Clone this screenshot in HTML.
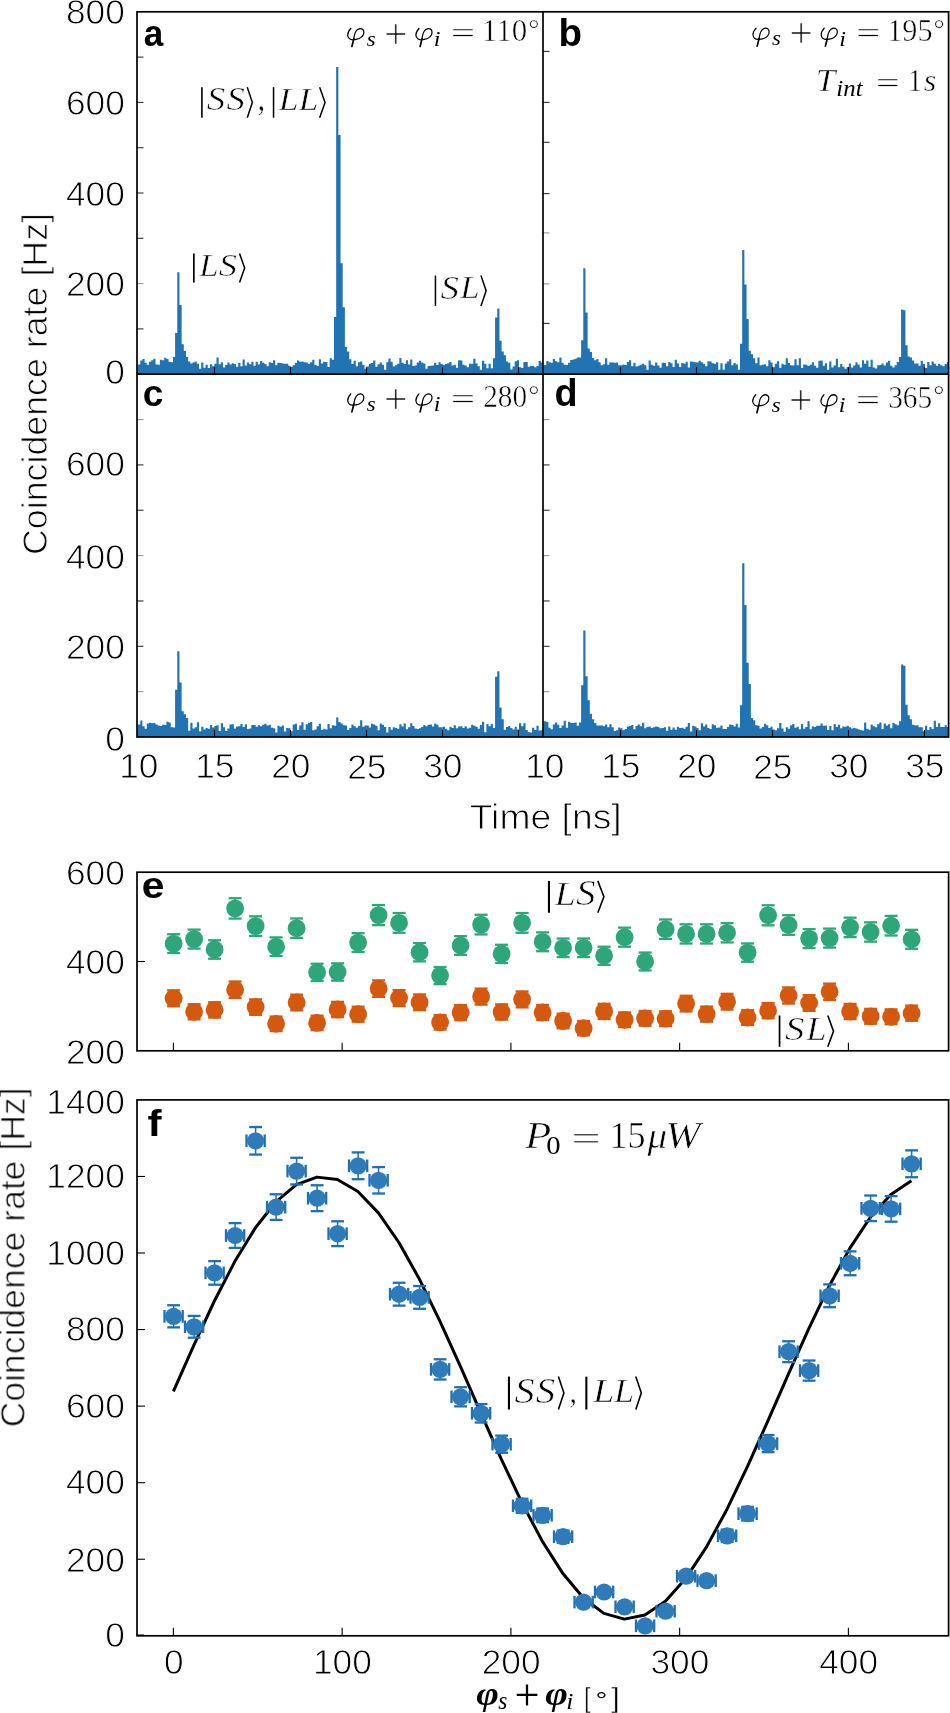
<!DOCTYPE html>
<html><head><meta charset="utf-8"><style>
html,body{margin:0;padding:0;background:#fff;}
svg{display:block;}
.gs{filter:grayscale(1);}
text{fill:#000;}
.thin{stroke:#fff;stroke-width:0.9px;}
.m text.e{stroke:#fff;stroke-width:0.5px;}
</style></head><body>
<svg width="950" height="1713" viewBox="0 0 950 1713">
<rect width="950" height="1713" fill="#fff"/>
<path d="M137.00,374.20 L137.80,364.57 L140.28,364.57 L140.28,360.58 L142.45,360.58 L142.45,359.04 L144.63,359.04 L144.63,362.79 L146.81,362.79 L146.81,364.83 L148.98,364.83 L148.98,361.68 L151.16,361.68 L151.16,360.33 L153.34,360.33 L153.34,358.78 L155.51,358.78 L155.51,364.55 L157.69,364.55 L157.69,364.74 L159.87,364.74 L159.87,359.76 L162.04,359.76 L162.04,360.33 L164.22,360.33 L164.22,357.69 L166.40,357.69 L166.40,359.07 L168.57,359.07 L168.57,361.77 L170.75,361.77 L170.75,362.20 L172.93,362.20 L172.93,356.99 L175.10,356.99 L175.10,332.98 L177.28,332.98 L177.28,272.27 L179.46,272.27 L179.46,304.89 L181.63,304.89 L181.63,344.30 L183.81,344.30 L183.81,351.10 L185.99,351.10 L185.99,356.99 L188.16,356.99 L188.16,361.52 L190.34,361.52 L190.34,363.55 L192.52,363.55 L192.52,362.51 L194.69,362.51 L194.69,361.50 L196.87,361.50 L196.87,363.71 L199.05,363.71 L199.05,368.69 L201.22,368.69 L201.22,362.49 L203.40,362.49 L203.40,367.77 L205.58,367.77 L205.58,364.66 L207.75,364.66 L207.75,367.91 L209.93,367.91 L209.93,364.23 L212.11,364.23 L212.11,366.17 L214.28,366.17 L214.28,363.70 L216.46,363.70 L216.46,357.44 L218.64,357.44 L218.64,364.36 L220.81,364.36 L220.81,362.14 L222.99,362.14 L222.99,367.53 L225.17,367.53 L225.17,364.95 L227.34,364.95 L227.34,362.58 L229.52,362.58 L229.52,364.46 L231.70,364.46 L231.70,363.31 L233.87,363.31 L233.87,363.98 L236.05,363.98 L236.05,366.74 L238.23,366.74 L238.23,362.83 L240.40,362.83 L240.40,366.26 L242.58,366.26 L242.58,359.57 L244.76,359.57 L244.76,365.49 L246.94,365.49 L246.94,362.52 L249.11,362.52 L249.11,364.23 L251.29,364.23 L251.29,361.86 L253.47,361.86 L253.47,365.73 L255.64,365.73 L255.64,361.75 L257.82,361.75 L257.82,364.54 L260.00,364.54 L260.00,361.09 L262.17,361.09 L262.17,362.68 L264.35,362.68 L264.35,363.88 L266.53,363.88 L266.53,366.18 L268.70,366.18 L268.70,362.32 L270.88,362.32 L270.88,363.07 L273.06,363.07 L273.06,360.14 L275.23,360.14 L275.23,365.17 L277.41,365.17 L277.41,362.85 L279.59,362.85 L279.59,362.97 L281.76,362.97 L281.76,363.53 L283.94,363.53 L283.94,363.71 L286.12,363.71 L286.12,363.78 L288.29,363.78 L288.29,365.72 L290.47,365.72 L290.47,366.76 L292.65,366.76 L292.65,365.22 L294.82,365.22 L294.82,362.76 L297.00,362.76 L297.00,360.47 L299.18,360.47 L299.18,361.80 L301.35,361.80 L301.35,361.61 L303.53,361.61 L303.53,362.30 L305.71,362.30 L305.71,362.49 L307.88,362.49 L307.88,363.78 L310.06,363.78 L310.06,362.31 L312.24,362.31 L312.24,359.81 L314.41,359.81 L314.41,365.05 L316.59,365.05 L316.59,365.96 L318.77,365.96 L318.77,359.35 L320.94,359.35 L320.94,363.62 L323.12,363.62 L323.12,361.81 L325.30,361.81 L325.30,362.06 L327.47,362.06 L327.47,367.06 L329.65,367.06 L329.65,358.17 L331.83,358.17 L331.83,359.81 L334.00,359.81 L334.00,317.12 L336.18,317.12 L336.18,67.07 L338.36,67.07 L338.36,135.02 L340.53,135.02 L340.53,263.22 L342.71,263.22 L342.71,307.16 L344.89,307.16 L344.89,347.02 L347.06,347.02 L347.06,351.55 L349.24,351.55 L349.24,359.25 L351.42,359.25 L351.42,364.09 L353.59,364.09 L353.59,360.86 L355.77,360.86 L355.77,366.13 L357.95,366.13 L357.95,362.26 L360.12,362.26 L360.12,361.46 L362.30,361.46 L362.30,364.96 L364.48,364.96 L364.48,368.70 L366.65,368.70 L366.65,366.49 L368.83,366.49 L368.83,363.64 L371.01,363.64 L371.01,362.92 L373.18,362.92 L373.18,360.38 L375.36,360.38 L375.36,366.74 L377.54,366.74 L377.54,364.23 L379.71,364.23 L379.71,362.62 L381.89,362.62 L381.89,364.63 L384.07,364.63 L384.07,369.67 L386.24,369.67 L386.24,362.22 L388.42,362.22 L388.42,358.47 L390.60,358.47 L390.60,361.73 L392.77,361.73 L392.77,366.52 L394.95,366.52 L394.95,365.26 L397.13,365.26 L397.13,363.68 L399.30,363.68 L399.30,358.03 L401.48,358.03 L401.48,362.70 L403.66,362.70 L403.66,363.95 L405.83,363.95 L405.83,360.35 L408.01,360.35 L408.01,364.44 L410.19,364.44 L410.19,359.60 L412.36,359.60 L412.36,365.94 L414.54,365.94 L414.54,365.42 L416.72,365.42 L416.72,362.44 L418.89,362.44 L418.89,360.69 L421.07,360.69 L421.07,362.60 L423.25,362.60 L423.25,363.48 L425.42,363.48 L425.42,368.77 L427.60,368.77 L427.60,366.01 L429.78,366.01 L429.78,365.76 L431.95,365.76 L431.95,365.56 L434.13,365.56 L434.13,362.77 L436.31,362.77 L436.31,365.07 L438.48,365.07 L438.48,362.27 L440.66,362.27 L440.66,364.03 L442.84,364.03 L442.84,365.06 L445.01,365.06 L445.01,363.94 L447.19,363.94 L447.19,363.17 L449.37,363.17 L449.37,362.10 L451.54,362.10 L451.54,365.42 L453.72,365.42 L453.72,364.81 L455.90,364.81 L455.90,367.63 L458.07,367.63 L458.07,360.24 L460.25,360.24 L460.25,360.62 L462.43,360.62 L462.43,364.68 L464.60,364.68 L464.61,365.43 L466.78,365.43 L466.78,367.31 L468.96,367.31 L468.96,363.81 L471.14,363.81 L471.14,363.72 L473.31,363.72 L473.31,358.80 L475.49,358.80 L475.49,363.62 L477.67,363.62 L477.67,366.17 L479.84,366.17 L479.84,369.67 L482.02,369.67 L482.02,360.72 L484.20,360.72 L484.20,363.76 L486.37,363.76 L486.37,368.24 L488.55,368.24 L488.55,363.78 L490.73,363.78 L490.73,368.24 L492.90,368.24 L492.90,358.34 L495.08,358.34 L495.08,317.57 L497.26,317.57 L497.26,308.51 L499.43,308.51 L499.43,340.68 L501.61,340.68 L501.61,351.55 L503.79,351.55 L503.79,355.17 L505.96,355.17 L505.96,361.52 L508.14,361.52 L508.14,362.75 L510.32,362.75 L510.32,369.56 L512.49,369.56 L512.49,366.50 L514.67,366.50 L514.67,361.20 L516.85,361.20 L516.85,360.14 L519.02,360.14 L519.02,367.18 L521.20,367.18 L521.20,368.06 L523.38,368.06 L523.38,362.04 L525.55,362.04 L525.55,362.11 L527.73,362.11 L527.73,366.69 L529.91,366.69 L529.91,365.96 L532.08,365.96 L532.08,365.96 L534.26,365.96 L534.26,367.20 L536.44,367.20 L536.44,365.93 L538.61,365.93 L538.61,361.12 L540.79,361.12 L540.79,362.52 L542.60,362.52 L542.60,374.20 Z" fill="#2173b2"/>
<path d="M543.00,374.20 L543.80,365.12 L546.28,365.12 L546.28,360.94 L548.45,360.94 L548.45,362.21 L550.63,362.21 L550.63,362.71 L552.81,362.71 L552.81,359.11 L554.98,359.11 L554.98,361.35 L557.16,361.35 L557.16,362.20 L559.34,362.20 L559.34,357.44 L561.51,357.44 L561.51,362.75 L563.69,362.75 L563.69,364.66 L565.87,364.66 L565.87,364.94 L568.04,364.94 L568.04,362.83 L570.22,362.83 L570.22,359.88 L572.40,359.88 L572.40,359.39 L574.57,359.39 L574.57,358.68 L576.75,358.68 L576.75,357.44 L578.93,357.44 L578.93,357.44 L581.10,357.44 L581.10,340.23 L583.28,340.23 L583.28,268.20 L585.46,268.20 L585.46,312.59 L587.63,312.59 L587.63,348.38 L589.81,348.38 L589.81,352.00 L591.99,352.00 L591.99,357.89 L594.16,357.89 L594.16,360.16 L596.34,360.16 L596.34,359.10 L598.52,359.10 L598.52,362.17 L600.69,362.17 L600.69,365.32 L602.87,365.32 L602.87,364.29 L605.05,364.29 L605.05,358.22 L607.22,358.22 L607.22,364.72 L609.40,364.72 L609.40,362.25 L611.58,362.25 L611.58,362.54 L613.75,362.54 L613.75,362.81 L615.93,362.81 L615.93,362.62 L618.11,362.62 L618.11,365.31 L620.28,365.31 L620.28,365.26 L622.46,365.26 L622.46,364.50 L624.64,364.50 L624.64,365.00 L626.81,365.00 L626.81,362.06 L628.99,362.06 L628.99,360.20 L631.17,360.20 L631.17,366.34 L633.34,366.34 L633.34,362.72 L635.52,362.72 L635.52,366.57 L637.70,366.57 L637.70,365.84 L639.87,365.84 L639.87,364.70 L642.05,364.70 L642.05,363.82 L644.23,363.82 L644.23,365.20 L646.40,365.20 L646.40,369.67 L648.58,369.67 L648.58,360.60 L650.76,360.60 L650.76,364.78 L652.93,364.78 L652.94,365.70 L655.11,365.70 L655.11,362.38 L657.29,362.38 L657.29,365.60 L659.47,365.60 L659.47,367.70 L661.64,367.70 L661.64,362.86 L663.82,362.86 L663.82,363.04 L666.00,363.04 L666.00,366.18 L668.17,366.18 L668.17,361.98 L670.35,361.98 L670.35,363.15 L672.53,363.15 L672.53,366.96 L674.70,366.96 L674.70,359.67 L676.88,359.67 L676.88,363.42 L679.06,363.42 L679.06,366.96 L681.23,366.96 L681.23,362.95 L683.41,362.95 L683.41,363.78 L685.59,363.78 L685.59,361.64 L687.76,361.64 L687.76,367.50 L689.94,367.50 L689.94,361.47 L692.12,361.47 L692.12,361.72 L694.29,361.72 L694.29,362.34 L696.47,362.34 L696.47,362.55 L698.65,362.55 L698.65,360.78 L700.82,360.78 L700.82,362.28 L703.00,362.28 L703.00,363.77 L705.18,363.77 L705.18,366.21 L707.35,366.21 L707.35,361.29 L709.53,361.29 L709.53,361.62 L711.71,361.62 L711.71,363.35 L713.88,363.35 L713.88,363.71 L716.06,363.71 L716.06,362.27 L718.24,362.27 L718.24,369.67 L720.41,369.67 L720.41,363.30 L722.59,363.30 L722.59,369.67 L724.77,369.67 L724.77,363.49 L726.94,363.49 L726.94,361.43 L729.12,361.43 L729.12,359.32 L731.30,359.32 L731.30,365.30 L733.47,365.30 L733.47,363.02 L735.65,363.02 L735.65,364.28 L737.83,364.28 L737.83,369.67 L740.00,369.67 L740.00,343.85 L742.18,343.85 L742.18,250.08 L744.36,250.08 L744.36,284.51 L746.53,284.51 L746.53,318.93 L748.71,318.93 L748.71,350.64 L750.89,350.64 L750.89,354.27 L753.06,354.27 L753.06,358.34 L755.24,358.34 L755.24,363.37 L757.42,363.37 L757.42,357.44 L759.59,357.44 L759.59,365.15 L761.77,365.15 L761.77,364.78 L763.95,364.78 L763.95,364.25 L766.12,364.25 L766.12,366.16 L768.30,366.16 L768.30,360.30 L770.48,360.30 L770.48,362.48 L772.65,362.48 L772.65,367.33 L774.83,367.33 L774.83,363.84 L777.01,363.84 L777.01,361.21 L779.18,361.21 L779.18,367.70 L781.36,367.70 L781.36,363.74 L783.54,363.74 L783.54,364.71 L785.71,364.71 L785.71,358.22 L787.89,358.22 L787.89,363.07 L790.07,363.07 L790.07,365.15 L792.24,365.15 L792.24,365.53 L794.42,365.53 L794.42,359.34 L796.60,359.34 L796.60,365.29 L798.77,365.29 L798.77,358.35 L800.95,358.35 L800.95,368.06 L803.13,368.06 L803.13,364.60 L805.30,364.60 L805.30,364.72 L807.48,364.72 L807.48,365.89 L809.66,365.89 L809.66,364.65 L811.83,364.65 L811.83,362.37 L814.01,362.37 L814.01,365.79 L816.19,365.79 L816.19,367.74 L818.36,367.74 L818.36,360.72 L820.54,360.72 L820.54,360.41 L822.72,360.41 L822.72,365.86 L824.89,365.86 L824.89,363.35 L827.07,363.35 L827.07,369.67 L829.25,369.67 L829.25,361.49 L831.42,361.49 L831.42,367.48 L833.60,367.48 L833.60,365.52 L835.78,365.52 L835.78,358.65 L837.95,358.65 L837.95,367.31 L840.13,367.31 L840.13,364.06 L842.31,364.06 L842.31,366.82 L844.48,366.82 L844.48,368.79 L846.66,368.79 L846.66,367.06 L848.84,367.06 L848.84,363.43 L851.01,363.43 L851.01,367.42 L853.19,367.42 L853.19,365.61 L855.37,365.61 L855.37,362.28 L857.54,362.28 L857.54,364.52 L859.72,364.52 L859.72,367.43 L861.90,367.43 L861.90,360.34 L864.07,360.34 L864.07,363.81 L866.25,363.81 L866.25,360.57 L868.43,360.57 L868.43,366.77 L870.61,366.77 L870.61,359.86 L872.78,359.86 L872.78,367.52 L874.96,367.52 L874.96,368.52 L877.14,368.52 L877.14,365.19 L879.31,365.19 L879.31,365.06 L881.49,365.06 L881.49,363.46 L883.67,363.46 L883.67,365.54 L885.84,365.54 L885.84,362.52 L888.02,362.52 L888.02,360.75 L890.20,360.75 L890.20,365.77 L892.37,365.77 L892.37,367.59 L894.55,367.59 L894.55,365.13 L896.73,365.13 L896.73,362.05 L898.90,362.05 L898.90,356.99 L901.08,356.99 L901.08,309.42 L903.26,309.42 L903.26,310.33 L905.43,310.33 L905.43,345.21 L907.61,345.21 L907.61,356.53 L909.79,356.53 L909.79,357.44 L911.96,357.44 L911.96,360.61 L914.14,360.61 L914.14,363.55 L916.32,363.55 L916.32,363.39 L918.49,363.39 L918.49,365.70 L920.67,365.70 L920.67,360.68 L922.85,360.68 L922.85,364.01 L925.02,364.01 L925.02,367.88 L927.20,367.88 L927.20,362.05 L929.38,362.05 L929.38,365.18 L931.55,365.18 L931.55,361.40 L933.73,361.40 L933.73,363.70 L935.91,363.70 L935.91,365.70 L938.08,365.70 L938.08,363.69 L940.26,363.69 L940.26,365.36 L942.44,365.36 L942.44,366.21 L944.61,366.21 L944.61,364.07 L946.79,364.07 L946.79,362.02 L948.60,362.02 L948.60,374.20 Z" fill="#2173b2"/>
<path d="M137.00,737.00 L137.80,724.52 L140.28,724.52 L140.28,720.52 L142.45,720.52 L142.45,726.25 L144.63,726.25 L144.63,728.74 L146.81,728.74 L146.81,723.59 L148.98,723.59 L148.98,722.64 L151.16,722.64 L151.16,723.23 L153.34,723.23 L153.34,722.88 L155.51,722.88 L155.51,724.43 L157.69,724.43 L157.69,725.61 L159.87,725.61 L159.87,726.00 L162.04,726.00 L162.04,724.64 L164.22,724.64 L164.22,725.04 L166.40,725.04 L166.40,721.75 L168.57,721.75 L168.57,722.51 L170.75,722.51 L170.75,727.21 L172.93,727.21 L172.93,727.48 L175.10,727.48 L175.10,689.84 L177.28,689.84 L177.28,651.29 L179.46,651.29 L179.46,682.58 L181.63,682.58 L181.63,711.15 L183.81,711.15 L183.81,714.33 L185.99,714.33 L185.99,717.95 L188.16,717.95 L188.16,730.68 L190.34,730.68 L190.34,722.81 L192.52,722.81 L192.52,728.41 L194.69,728.41 L194.69,727.23 L196.87,727.23 L196.87,722.17 L199.05,722.17 L199.05,731.19 L201.22,731.19 L201.22,726.68 L203.40,726.68 L203.40,729.45 L205.58,729.45 L205.58,728.06 L207.75,728.06 L207.75,728.76 L209.93,728.76 L209.93,725.03 L212.11,725.03 L212.11,727.51 L214.28,727.51 L214.28,725.88 L216.46,725.88 L216.46,725.13 L218.64,725.13 L218.64,731.07 L220.81,731.07 L220.81,723.22 L222.99,723.22 L222.99,727.37 L225.17,727.37 L225.17,730.93 L227.34,730.93 L227.34,728.41 L229.52,728.41 L229.52,724.54 L231.70,724.54 L231.70,724.21 L233.87,724.21 L233.87,728.48 L236.05,728.48 L236.05,726.48 L238.23,726.48 L238.23,726.13 L240.40,726.13 L240.40,724.12 L242.58,724.12 L242.58,727.08 L244.76,727.08 L244.76,724.26 L246.94,724.26 L246.94,729.00 L249.11,729.00 L249.11,728.56 L251.29,728.56 L251.29,725.05 L253.47,725.05 L253.47,724.90 L255.64,724.90 L255.64,726.86 L257.82,726.86 L257.82,725.20 L260.00,725.20 L260.00,726.21 L262.17,726.21 L262.17,724.78 L264.35,724.78 L264.35,723.78 L266.53,723.78 L266.53,725.41 L268.70,725.41 L268.70,724.65 L270.88,724.65 L270.88,727.73 L273.06,727.73 L273.06,728.15 L275.23,728.15 L275.23,732.47 L277.41,732.47 L277.41,725.69 L279.59,725.69 L279.59,726.65 L281.76,726.65 L281.76,725.38 L283.94,725.38 L283.94,731.49 L286.12,731.49 L286.12,727.97 L288.29,727.97 L288.29,728.15 L290.47,728.15 L290.47,731.32 L292.65,731.32 L292.65,724.43 L294.82,724.43 L294.82,723.63 L297.00,723.63 L297.00,729.97 L299.18,729.97 L299.18,725.60 L301.35,725.60 L301.35,722.34 L303.53,722.34 L303.53,729.82 L305.71,729.82 L305.71,724.22 L307.88,724.22 L307.88,722.69 L310.06,722.69 L310.06,721.98 L312.24,721.98 L312.24,730.20 L314.41,730.20 L314.41,729.44 L316.59,729.44 L316.59,726.20 L318.77,726.20 L318.77,723.67 L320.94,723.67 L320.94,729.94 L323.12,729.94 L323.12,728.65 L325.30,728.65 L325.30,729.57 L327.47,729.57 L327.47,723.91 L329.65,723.91 L329.65,728.16 L331.83,728.16 L331.83,725.27 L334.00,725.27 L334.00,725.66 L336.18,725.66 L336.18,717.50 L338.36,717.50 L338.36,722.03 L340.53,722.03 L340.53,723.39 L342.71,723.39 L342.71,725.21 L344.89,725.21 L344.89,725.52 L347.06,725.52 L347.06,729.95 L349.24,729.95 L349.24,728.10 L351.42,728.10 L351.42,724.42 L353.59,724.42 L353.59,726.37 L355.77,726.37 L355.77,727.63 L357.95,727.63 L357.95,726.11 L360.12,726.11 L360.12,720.22 L362.30,720.22 L362.30,726.86 L364.48,726.86 L364.48,725.50 L366.65,725.50 L366.65,725.56 L368.83,725.56 L368.83,727.42 L371.01,727.42 L371.01,723.68 L373.18,723.68 L373.18,724.54 L375.36,724.54 L375.36,725.71 L377.54,725.71 L377.54,730.19 L379.71,730.19 L379.71,723.51 L381.89,723.51 L381.89,724.77 L384.07,724.77 L384.07,726.94 L386.24,726.94 L386.24,732.47 L388.42,732.47 L388.42,726.88 L390.60,726.88 L390.60,729.84 L392.77,729.84 L392.77,727.32 L394.95,727.32 L394.95,728.04 L397.13,728.04 L397.13,728.85 L399.30,728.85 L399.30,724.14 L401.48,724.14 L401.48,726.44 L403.66,726.44 L403.66,723.57 L405.83,723.57 L405.83,729.20 L408.01,729.20 L408.01,727.22 L410.19,727.22 L410.19,723.24 L412.36,723.24 L412.36,725.90 L414.54,725.90 L414.54,728.59 L416.72,728.59 L416.72,729.01 L418.89,729.01 L418.89,728.25 L421.07,728.25 L421.07,726.95 L423.25,726.95 L423.25,724.97 L425.42,724.97 L425.42,726.36 L427.60,726.36 L427.60,724.80 L429.78,724.80 L429.78,724.58 L431.95,724.58 L431.95,726.43 L434.13,726.43 L434.13,723.43 L436.31,723.43 L436.31,724.84 L438.48,724.84 L438.48,727.21 L440.66,727.21 L440.66,727.16 L442.84,727.16 L442.84,726.78 L445.01,726.78 L445.01,728.63 L447.19,728.63 L447.19,730.17 L449.37,730.17 L449.37,726.64 L451.54,726.64 L451.54,728.05 L453.72,728.05 L453.72,725.23 L455.90,725.23 L455.90,728.27 L458.07,728.27 L458.07,726.48 L460.25,726.48 L460.25,726.23 L462.43,726.23 L462.43,727.94 L464.60,727.94 L464.61,726.24 L466.78,726.24 L466.78,728.59 L468.96,728.59 L468.96,727.84 L471.14,727.84 L471.14,724.69 L473.31,724.69 L473.31,725.74 L475.49,725.74 L475.49,726.75 L477.67,726.75 L477.67,728.75 L479.84,728.75 L479.84,724.96 L482.02,724.96 L482.02,721.63 L484.20,721.63 L484.20,732.32 L486.37,732.32 L486.37,724.05 L488.55,724.05 L488.55,726.19 L490.73,726.19 L490.73,723.93 L492.90,723.93 L492.90,727.93 L495.08,727.93 L495.08,676.68 L497.26,676.68 L497.26,671.24 L499.43,671.24 L499.43,707.52 L501.61,707.52 L501.61,719.31 L503.79,719.31 L503.79,729.74 L505.96,729.74 L505.96,726.96 L508.14,726.96 L508.14,726.06 L510.32,726.06 L510.32,728.07 L512.49,728.07 L512.49,729.41 L514.67,729.41 L514.67,726.71 L516.85,726.71 L516.85,729.54 L519.02,729.54 L519.02,723.31 L521.20,723.31 L521.20,726.13 L523.38,726.13 L523.38,723.15 L525.55,723.15 L525.55,729.94 L527.73,729.94 L527.73,732.08 L529.91,732.08 L529.91,732.47 L532.08,732.47 L532.08,727.72 L534.26,727.72 L534.26,730.05 L536.44,730.05 L536.44,725.83 L538.61,725.83 L538.61,730.49 L540.79,730.49 L540.79,730.30 L542.60,730.30 L542.60,737.00 Z" fill="#2173b2"/>
<path d="M543.00,737.00 L543.80,721.26 L546.28,721.26 L546.28,721.89 L548.45,721.89 L548.45,727.72 L550.63,727.72 L550.63,729.14 L552.81,729.14 L552.81,724.56 L554.98,724.56 L554.98,722.40 L557.16,722.40 L557.16,724.67 L559.34,724.67 L559.34,727.94 L561.51,727.94 L561.51,725.54 L563.69,725.54 L563.69,720.72 L565.87,720.72 L565.87,727.75 L568.04,727.75 L568.04,721.69 L570.22,721.69 L570.22,723.00 L572.40,723.00 L572.40,723.10 L574.57,723.10 L574.57,722.39 L576.75,722.39 L576.75,725.66 L578.93,725.66 L578.93,722.49 L581.10,722.49 L581.10,685.30 L583.28,685.30 L583.28,630.43 L585.46,630.43 L585.46,676.23 L587.63,676.23 L587.63,700.27 L589.81,700.27 L589.81,713.87 L591.99,713.87 L591.99,719.31 L594.16,719.31 L594.16,722.94 L596.34,722.94 L596.34,725.40 L598.52,725.40 L598.52,725.44 L600.69,725.44 L600.69,725.56 L602.87,725.56 L602.87,726.18 L605.05,726.18 L605.05,724.51 L607.22,724.51 L607.22,727.37 L609.40,727.37 L609.40,724.35 L611.58,724.35 L611.58,727.18 L613.75,727.18 L613.75,730.97 L615.93,730.97 L615.93,730.19 L618.11,730.19 L618.11,727.49 L620.28,727.49 L620.28,728.14 L622.46,728.14 L622.46,730.02 L624.64,730.02 L624.64,728.90 L626.81,728.90 L626.81,726.56 L628.99,726.56 L628.99,726.01 L631.17,726.01 L631.17,724.91 L633.34,724.91 L633.34,729.14 L635.52,729.14 L635.52,726.08 L637.70,726.08 L637.70,724.45 L639.87,724.45 L639.87,726.14 L642.05,726.14 L642.05,722.65 L644.23,722.65 L644.23,728.18 L646.40,728.18 L646.40,727.03 L648.58,727.03 L648.58,726.57 L650.76,726.57 L650.76,728.01 L652.93,728.01 L652.94,727.14 L655.11,727.14 L655.11,726.44 L657.29,726.44 L657.29,727.10 L659.47,727.10 L659.47,728.25 L661.64,728.25 L661.64,728.11 L663.82,728.11 L663.82,727.20 L666.00,727.20 L666.00,730.79 L668.17,730.79 L668.17,726.56 L670.35,726.56 L670.35,729.71 L672.53,729.71 L672.53,727.62 L674.70,727.62 L674.70,729.68 L676.88,729.68 L676.88,726.77 L679.06,726.77 L679.06,727.94 L681.23,727.94 L681.23,727.65 L683.41,727.65 L683.41,728.83 L685.59,728.83 L685.59,726.73 L687.76,726.73 L687.76,723.11 L689.94,723.11 L689.94,731.44 L692.12,731.44 L692.12,725.75 L694.29,725.75 L694.29,726.46 L696.47,726.46 L696.47,727.96 L698.65,727.96 L698.65,730.13 L700.82,730.13 L700.82,723.15 L703.00,723.15 L703.00,726.56 L705.18,726.56 L705.18,724.57 L707.35,724.57 L707.35,727.93 L709.53,727.93 L709.53,728.88 L711.71,728.88 L711.71,724.37 L713.88,724.37 L713.88,725.21 L716.06,725.21 L716.06,727.75 L718.24,727.75 L718.24,727.54 L720.41,727.54 L720.41,725.50 L722.59,725.50 L722.59,728.97 L724.77,728.97 L724.77,729.05 L726.94,729.05 L726.94,727.12 L729.12,727.12 L729.12,724.55 L731.30,724.55 L731.30,724.92 L733.47,724.92 L733.47,726.55 L735.65,726.55 L735.65,723.73 L737.83,723.73 L737.83,727.38 L740.00,727.38 L740.00,705.25 L742.18,705.25 L742.18,563.31 L744.36,563.31 L744.36,605.03 L746.53,605.03 L746.53,662.63 L748.71,662.63 L748.71,683.94 L750.89,683.94 L750.89,717.95 L753.06,717.95 L753.06,720.22 L755.24,720.22 L755.24,725.31 L757.42,725.31 L757.42,725.66 L759.59,725.66 L759.59,728.42 L761.77,728.42 L761.77,726.99 L763.95,726.99 L763.95,723.63 L766.12,723.63 L766.12,725.23 L768.30,725.23 L768.30,728.05 L770.48,728.05 L770.48,726.85 L772.65,726.85 L772.65,729.41 L774.83,729.41 L774.83,730.14 L777.01,730.14 L777.01,728.28 L779.18,728.28 L779.18,723.10 L781.36,723.10 L781.36,728.51 L783.54,728.51 L783.54,731.80 L785.71,731.80 L785.71,727.27 L787.89,727.27 L787.89,728.66 L790.07,728.66 L790.07,725.20 L792.24,725.20 L792.24,723.99 L794.42,723.99 L794.42,727.80 L796.60,727.80 L796.60,726.70 L798.77,726.70 L798.77,729.17 L800.95,729.17 L800.95,724.06 L803.13,724.06 L803.13,728.77 L805.30,728.77 L805.30,726.92 L807.48,726.92 L807.48,721.21 L809.66,721.21 L809.66,729.25 L811.83,729.25 L811.83,726.58 L814.01,726.58 L814.01,727.12 L816.19,727.12 L816.19,725.86 L818.36,725.86 L818.36,725.85 L820.54,725.85 L820.54,723.38 L822.72,723.38 L822.72,725.80 L824.89,725.80 L824.89,725.53 L827.07,725.53 L827.07,729.98 L829.25,729.98 L829.25,726.01 L831.42,726.01 L831.42,730.22 L833.60,730.22 L833.60,724.04 L835.78,724.04 L835.78,727.12 L837.95,727.12 L837.95,724.63 L840.13,724.63 L840.13,728.19 L842.31,728.19 L842.31,726.43 L844.48,726.43 L844.48,726.78 L846.66,726.78 L846.66,725.64 L848.84,725.64 L848.84,727.24 L851.01,727.24 L851.01,728.41 L853.19,728.41 L853.19,727.89 L855.37,727.89 L855.37,728.56 L857.54,728.56 L857.54,729.22 L859.72,729.22 L859.72,729.93 L861.90,729.93 L861.90,730.53 L864.07,730.53 L864.07,722.41 L866.25,722.41 L866.25,728.78 L868.43,728.78 L868.43,729.68 L870.61,729.68 L870.61,724.58 L872.78,724.58 L872.78,726.29 L874.96,726.29 L874.96,727.31 L877.14,727.31 L877.14,724.23 L879.31,724.23 L879.31,722.47 L881.49,722.47 L881.49,729.05 L883.67,729.05 L883.67,723.54 L885.84,723.54 L885.84,725.59 L888.02,725.59 L888.02,724.17 L890.20,724.17 L890.20,728.28 L892.37,728.28 L892.37,722.91 L894.55,722.91 L894.55,724.16 L896.73,724.16 L896.73,725.21 L898.90,725.21 L898.90,721.13 L901.08,721.13 L901.08,664.44 L903.26,664.44 L903.26,665.80 L905.43,665.80 L905.43,704.80 L907.61,704.80 L907.61,715.23 L909.79,715.23 L909.79,719.31 L911.96,719.31 L911.96,724.76 L914.14,724.76 L914.14,725.41 L916.32,725.41 L916.32,725.19 L918.49,725.19 L918.49,727.23 L920.67,727.23 L920.67,727.15 L922.85,727.15 L922.85,731.17 L925.02,731.17 L925.02,725.66 L927.20,725.66 L927.20,730.08 L929.38,730.08 L929.38,726.93 L931.55,726.93 L931.55,728.93 L933.73,728.93 L933.73,720.65 L935.91,720.65 L935.91,726.98 L938.08,726.98 L938.08,723.25 L940.26,723.25 L940.26,727.07 L942.44,727.07 L942.44,727.09 L944.61,727.09 L944.61,725.20 L946.79,725.20 L946.79,727.06 L948.60,727.06 L948.60,737.00 Z" fill="#2173b2"/>
<line x1="214.50" y1="374.20" x2="214.50" y2="367.20" stroke="#000" stroke-width="1.1"/>
<line x1="214.50" y1="737.00" x2="214.50" y2="730.00" stroke="#000" stroke-width="1.1"/>
<line x1="290.50" y1="374.20" x2="290.50" y2="367.20" stroke="#000" stroke-width="1.1"/>
<line x1="290.50" y1="737.00" x2="290.50" y2="730.00" stroke="#000" stroke-width="1.1"/>
<line x1="366.50" y1="374.20" x2="366.50" y2="367.20" stroke="#000" stroke-width="1.1"/>
<line x1="366.50" y1="737.00" x2="366.50" y2="730.00" stroke="#000" stroke-width="1.1"/>
<line x1="442.50" y1="374.20" x2="442.50" y2="367.20" stroke="#000" stroke-width="1.1"/>
<line x1="442.50" y1="737.00" x2="442.50" y2="730.00" stroke="#000" stroke-width="1.1"/>
<line x1="518.50" y1="374.20" x2="518.50" y2="367.20" stroke="#000" stroke-width="1.1"/>
<line x1="518.50" y1="737.00" x2="518.50" y2="730.00" stroke="#000" stroke-width="1.1"/>
<line x1="620.50" y1="374.20" x2="620.50" y2="367.20" stroke="#000" stroke-width="1.1"/>
<line x1="620.50" y1="737.00" x2="620.50" y2="730.00" stroke="#000" stroke-width="1.1"/>
<line x1="696.50" y1="374.20" x2="696.50" y2="367.20" stroke="#000" stroke-width="1.1"/>
<line x1="696.50" y1="737.00" x2="696.50" y2="730.00" stroke="#000" stroke-width="1.1"/>
<line x1="772.50" y1="374.20" x2="772.50" y2="367.20" stroke="#000" stroke-width="1.1"/>
<line x1="772.50" y1="737.00" x2="772.50" y2="730.00" stroke="#000" stroke-width="1.1"/>
<line x1="848.50" y1="374.20" x2="848.50" y2="367.20" stroke="#000" stroke-width="1.1"/>
<line x1="848.50" y1="737.00" x2="848.50" y2="730.00" stroke="#000" stroke-width="1.1"/>
<line x1="924.50" y1="374.20" x2="924.50" y2="367.20" stroke="#000" stroke-width="1.1"/>
<line x1="924.50" y1="737.00" x2="924.50" y2="730.00" stroke="#000" stroke-width="1.1"/>
<line x1="137.00" y1="328.90" x2="143.50" y2="328.90" stroke="#333" stroke-width="1.1"/>
<line x1="137.00" y1="283.60" x2="143.50" y2="283.60" stroke="#999" stroke-width="1.1"/>
<line x1="137.00" y1="238.30" x2="143.50" y2="238.30" stroke="#333" stroke-width="1.1"/>
<line x1="137.00" y1="193.00" x2="143.50" y2="193.00" stroke="#333" stroke-width="1.1"/>
<line x1="137.00" y1="147.70" x2="143.50" y2="147.70" stroke="#333" stroke-width="1.1"/>
<line x1="137.00" y1="102.40" x2="143.50" y2="102.40" stroke="#333" stroke-width="1.1"/>
<line x1="137.00" y1="57.10" x2="143.50" y2="57.10" stroke="#333" stroke-width="1.1"/>
<line x1="137.00" y1="691.65" x2="143.50" y2="691.65" stroke="#999" stroke-width="1.1"/>
<line x1="137.00" y1="646.30" x2="143.50" y2="646.30" stroke="#333" stroke-width="1.1"/>
<line x1="137.00" y1="600.95" x2="143.50" y2="600.95" stroke="#333" stroke-width="1.1"/>
<line x1="137.00" y1="555.60" x2="143.50" y2="555.60" stroke="#999" stroke-width="1.1"/>
<line x1="137.00" y1="510.25" x2="143.50" y2="510.25" stroke="#333" stroke-width="1.1"/>
<line x1="137.00" y1="464.90" x2="143.50" y2="464.90" stroke="#333" stroke-width="1.1"/>
<line x1="137.00" y1="419.55" x2="143.50" y2="419.55" stroke="#999" stroke-width="1.1"/>
<line x1="543.00" y1="51.40" x2="549.50" y2="51.40" stroke="#333" stroke-width="1.1"/>
<line x1="543.00" y1="102.40" x2="549.50" y2="102.40" stroke="#333" stroke-width="1.1"/>
<line x1="543.00" y1="142.30" x2="549.50" y2="142.30" stroke="#333" stroke-width="1.1"/>
<line x1="543.00" y1="193.60" x2="549.50" y2="193.60" stroke="#333" stroke-width="1.1"/>
<line x1="543.00" y1="232.90" x2="549.50" y2="232.90" stroke="#999" stroke-width="1.1"/>
<line x1="543.00" y1="283.90" x2="549.50" y2="283.90" stroke="#999" stroke-width="1.1"/>
<line x1="543.00" y1="323.40" x2="549.50" y2="323.40" stroke="#333" stroke-width="1.1"/>
<line x1="543.00" y1="691.65" x2="549.50" y2="691.65" stroke="#999" stroke-width="1.1"/>
<line x1="543.00" y1="646.30" x2="549.50" y2="646.30" stroke="#333" stroke-width="1.1"/>
<line x1="543.00" y1="600.95" x2="549.50" y2="600.95" stroke="#333" stroke-width="1.1"/>
<line x1="543.00" y1="555.60" x2="549.50" y2="555.60" stroke="#999" stroke-width="1.1"/>
<line x1="543.00" y1="510.25" x2="549.50" y2="510.25" stroke="#333" stroke-width="1.1"/>
<line x1="543.00" y1="464.90" x2="549.50" y2="464.90" stroke="#333" stroke-width="1.1"/>
<line x1="543.00" y1="419.55" x2="549.50" y2="419.55" stroke="#999" stroke-width="1.1"/>
<line x1="173.40" y1="1050.80" x2="173.40" y2="1042.80" stroke="#000" stroke-width="1.1"/>
<line x1="173.40" y1="1635.80" x2="173.40" y2="1627.80" stroke="#000" stroke-width="1.1"/>
<line x1="342.15" y1="1050.80" x2="342.15" y2="1042.80" stroke="#000" stroke-width="1.1"/>
<line x1="342.15" y1="1635.80" x2="342.15" y2="1627.80" stroke="#000" stroke-width="1.1"/>
<line x1="510.90" y1="1050.80" x2="510.90" y2="1042.80" stroke="#000" stroke-width="1.1"/>
<line x1="510.90" y1="1635.80" x2="510.90" y2="1627.80" stroke="#000" stroke-width="1.1"/>
<line x1="679.65" y1="1050.80" x2="679.65" y2="1042.80" stroke="#000" stroke-width="1.1"/>
<line x1="679.65" y1="1635.80" x2="679.65" y2="1627.80" stroke="#000" stroke-width="1.1"/>
<line x1="848.40" y1="1050.80" x2="848.40" y2="1042.80" stroke="#000" stroke-width="1.1"/>
<line x1="848.40" y1="1635.80" x2="848.40" y2="1627.80" stroke="#000" stroke-width="1.1"/>
<line x1="137.00" y1="961.50" x2="145.00" y2="961.50" stroke="#000" stroke-width="1.1"/>
<line x1="137.00" y1="1559.24" x2="145.00" y2="1559.24" stroke="#000" stroke-width="1.1"/>
<line x1="137.00" y1="1482.69" x2="145.00" y2="1482.69" stroke="#000" stroke-width="1.1"/>
<line x1="137.00" y1="1406.13" x2="145.00" y2="1406.13" stroke="#000" stroke-width="1.1"/>
<line x1="137.00" y1="1329.57" x2="145.00" y2="1329.57" stroke="#000" stroke-width="1.1"/>
<line x1="137.00" y1="1253.01" x2="145.00" y2="1253.01" stroke="#000" stroke-width="1.1"/>
<line x1="137.00" y1="1176.46" x2="145.00" y2="1176.46" stroke="#000" stroke-width="1.1"/>
<line x1="137.00" y1="1634.60" x2="144.00" y2="1634.60" stroke="#888" stroke-width="1.4"/>
<g fill="#2ea67a"><rect x="172.80" y="934.23" width="1.6" height="18.75"/><rect x="167.10" y="933.08" width="13" height="2.3"/><rect x="167.10" y="951.82" width="13" height="2.3"/><circle cx="173.60" cy="943.60" r="8.9"/></g>
<g fill="#d5580f"><rect x="172.80" y="990.33" width="1.6" height="15.93"/><rect x="167.10" y="989.18" width="13" height="2.3"/><rect x="167.10" y="1005.12" width="13" height="2.3"/><circle cx="173.60" cy="998.30" r="8.9"/></g>
<g fill="#2ea67a"><rect x="193.30" y="929.62" width="1.6" height="18.96"/><rect x="187.60" y="928.47" width="13" height="2.3"/><rect x="187.60" y="947.43" width="13" height="2.3"/><circle cx="194.10" cy="939.10" r="8.9"/></g>
<g fill="#d5580f"><rect x="193.30" y="1004.22" width="1.6" height="15.16"/><rect x="187.60" y="1003.07" width="13" height="2.3"/><rect x="187.60" y="1018.23" width="13" height="2.3"/><circle cx="194.10" cy="1011.80" r="8.9"/></g>
<g fill="#2ea67a"><rect x="213.80" y="940.27" width="1.6" height="18.46"/><rect x="208.10" y="939.12" width="13" height="2.3"/><rect x="208.10" y="957.58" width="13" height="2.3"/><circle cx="214.60" cy="949.50" r="8.9"/></g>
<g fill="#d5580f"><rect x="213.80" y="1002.27" width="1.6" height="15.27"/><rect x="208.10" y="1001.12" width="13" height="2.3"/><rect x="208.10" y="1016.38" width="13" height="2.3"/><circle cx="214.60" cy="1009.90" r="8.9"/></g>
<g fill="#2ea67a"><rect x="234.30" y="898.22" width="1.6" height="20.36"/><rect x="228.60" y="897.07" width="13" height="2.3"/><rect x="228.60" y="917.43" width="13" height="2.3"/><circle cx="235.10" cy="908.40" r="8.9"/></g>
<g fill="#d5580f"><rect x="234.30" y="981.50" width="1.6" height="16.41"/><rect x="228.60" y="980.35" width="13" height="2.3"/><rect x="228.60" y="996.75" width="13" height="2.3"/><circle cx="235.10" cy="989.70" r="8.9"/></g>
<g fill="#2ea67a"><rect x="254.80" y="916.32" width="1.6" height="19.56"/><rect x="249.10" y="915.17" width="13" height="2.3"/><rect x="249.10" y="934.73" width="13" height="2.3"/><circle cx="255.60" cy="926.10" r="8.9"/></g>
<g fill="#d5580f"><rect x="254.80" y="999.39" width="1.6" height="15.43"/><rect x="249.10" y="998.24" width="13" height="2.3"/><rect x="249.10" y="1013.66" width="13" height="2.3"/><circle cx="255.60" cy="1007.10" r="8.9"/></g>
<g fill="#2ea67a"><rect x="275.30" y="937.40" width="1.6" height="18.60"/><rect x="269.60" y="936.25" width="13" height="2.3"/><rect x="269.60" y="954.85" width="13" height="2.3"/><circle cx="276.10" cy="946.70" r="8.9"/></g>
<g fill="#d5580f"><rect x="275.30" y="1016.58" width="1.6" height="14.43"/><rect x="269.60" y="1015.43" width="13" height="2.3"/><rect x="269.60" y="1029.87" width="13" height="2.3"/><circle cx="276.10" cy="1023.80" r="8.9"/></g>
<g fill="#2ea67a"><rect x="295.80" y="918.47" width="1.6" height="19.47"/><rect x="290.10" y="917.32" width="13" height="2.3"/><rect x="290.10" y="936.78" width="13" height="2.3"/><circle cx="296.60" cy="928.20" r="8.9"/></g>
<g fill="#d5580f"><rect x="295.80" y="994.65" width="1.6" height="15.69"/><rect x="290.10" y="993.50" width="13" height="2.3"/><rect x="290.10" y="1009.20" width="13" height="2.3"/><circle cx="296.60" cy="1002.50" r="8.9"/></g>
<g fill="#2ea67a"><rect x="316.30" y="963.74" width="1.6" height="17.32"/><rect x="310.60" y="962.59" width="13" height="2.3"/><rect x="310.60" y="979.91" width="13" height="2.3"/><circle cx="317.10" cy="972.40" r="8.9"/></g>
<g fill="#d5580f"><rect x="316.30" y="1015.66" width="1.6" height="14.49"/><rect x="310.60" y="1014.51" width="13" height="2.3"/><rect x="310.60" y="1028.99" width="13" height="2.3"/><circle cx="317.10" cy="1022.90" r="8.9"/></g>
<g fill="#2ea67a"><rect x="336.80" y="963.33" width="1.6" height="17.34"/><rect x="331.10" y="962.18" width="13" height="2.3"/><rect x="331.10" y="979.52" width="13" height="2.3"/><circle cx="337.60" cy="972.00" r="8.9"/></g>
<g fill="#d5580f"><rect x="336.80" y="1001.85" width="1.6" height="15.29"/><rect x="331.10" y="1000.70" width="13" height="2.3"/><rect x="331.10" y="1016.00" width="13" height="2.3"/><circle cx="337.60" cy="1009.50" r="8.9"/></g>
<g fill="#2ea67a"><rect x="357.30" y="933.20" width="1.6" height="18.80"/><rect x="351.60" y="932.05" width="13" height="2.3"/><rect x="351.60" y="950.85" width="13" height="2.3"/><circle cx="358.10" cy="942.60" r="8.9"/></g>
<g fill="#d5580f"><rect x="357.30" y="1006.69" width="1.6" height="15.01"/><rect x="351.60" y="1005.54" width="13" height="2.3"/><rect x="351.60" y="1020.56" width="13" height="2.3"/><circle cx="358.10" cy="1014.20" r="8.9"/></g>
<g fill="#2ea67a"><rect x="377.80" y="905.07" width="1.6" height="20.06"/><rect x="372.10" y="903.92" width="13" height="2.3"/><rect x="372.10" y="923.98" width="13" height="2.3"/><circle cx="378.60" cy="915.10" r="8.9"/></g>
<g fill="#d5580f"><rect x="377.80" y="980.37" width="1.6" height="16.47"/><rect x="372.10" y="979.22" width="13" height="2.3"/><rect x="372.10" y="995.68" width="13" height="2.3"/><circle cx="378.60" cy="988.60" r="8.9"/></g>
<g fill="#2ea67a"><rect x="398.30" y="913.05" width="1.6" height="19.71"/><rect x="392.60" y="911.90" width="13" height="2.3"/><rect x="392.60" y="931.60" width="13" height="2.3"/><circle cx="399.10" cy="922.90" r="8.9"/></g>
<g fill="#d5580f"><rect x="398.30" y="990.13" width="1.6" height="15.94"/><rect x="392.60" y="988.98" width="13" height="2.3"/><rect x="392.60" y="1004.92" width="13" height="2.3"/><circle cx="399.10" cy="998.10" r="8.9"/></g>
<g fill="#2ea67a"><rect x="418.80" y="943.03" width="1.6" height="18.33"/><rect x="413.10" y="941.88" width="13" height="2.3"/><rect x="413.10" y="960.22" width="13" height="2.3"/><circle cx="419.60" cy="952.20" r="8.9"/></g>
<g fill="#d5580f"><rect x="418.80" y="994.45" width="1.6" height="15.70"/><rect x="413.10" y="993.30" width="13" height="2.3"/><rect x="413.10" y="1009.00" width="13" height="2.3"/><circle cx="419.60" cy="1002.30" r="8.9"/></g>
<g fill="#2ea67a"><rect x="439.30" y="967.02" width="1.6" height="17.16"/><rect x="433.60" y="965.87" width="13" height="2.3"/><rect x="433.60" y="983.03" width="13" height="2.3"/><circle cx="440.10" cy="975.60" r="8.9"/></g>
<g fill="#d5580f"><rect x="439.30" y="1015.04" width="1.6" height="14.52"/><rect x="433.60" y="1013.89" width="13" height="2.3"/><rect x="433.60" y="1028.41" width="13" height="2.3"/><circle cx="440.10" cy="1022.30" r="8.9"/></g>
<g fill="#2ea67a"><rect x="459.80" y="936.17" width="1.6" height="18.66"/><rect x="454.10" y="935.02" width="13" height="2.3"/><rect x="454.10" y="953.68" width="13" height="2.3"/><circle cx="460.60" cy="945.50" r="8.9"/></g>
<g fill="#d5580f"><rect x="459.80" y="1005.05" width="1.6" height="15.11"/><rect x="454.10" y="1003.90" width="13" height="2.3"/><rect x="454.10" y="1019.00" width="13" height="2.3"/><circle cx="460.60" cy="1012.60" r="8.9"/></g>
<g fill="#2ea67a"><rect x="480.30" y="914.78" width="1.6" height="19.63"/><rect x="474.60" y="913.63" width="13" height="2.3"/><rect x="474.60" y="933.27" width="13" height="2.3"/><circle cx="481.10" cy="924.60" r="8.9"/></g>
<g fill="#d5580f"><rect x="480.30" y="988.59" width="1.6" height="16.03"/><rect x="474.60" y="987.44" width="13" height="2.3"/><rect x="474.60" y="1003.46" width="13" height="2.3"/><circle cx="481.10" cy="996.60" r="8.9"/></g>
<g fill="#2ea67a"><rect x="500.80" y="944.77" width="1.6" height="18.25"/><rect x="495.10" y="943.62" width="13" height="2.3"/><rect x="495.10" y="961.88" width="13" height="2.3"/><circle cx="501.60" cy="953.90" r="8.9"/></g>
<g fill="#d5580f"><rect x="500.80" y="1004.43" width="1.6" height="15.14"/><rect x="495.10" y="1003.28" width="13" height="2.3"/><rect x="495.10" y="1018.42" width="13" height="2.3"/><circle cx="501.60" cy="1012.00" r="8.9"/></g>
<g fill="#2ea67a"><rect x="521.30" y="913.05" width="1.6" height="19.71"/><rect x="515.60" y="911.90" width="13" height="2.3"/><rect x="515.60" y="931.60" width="13" height="2.3"/><circle cx="522.10" cy="922.90" r="8.9"/></g>
<g fill="#d5580f"><rect x="521.30" y="991.47" width="1.6" height="15.87"/><rect x="515.60" y="990.32" width="13" height="2.3"/><rect x="515.60" y="1006.18" width="13" height="2.3"/><circle cx="522.10" cy="999.40" r="8.9"/></g>
<g fill="#2ea67a"><rect x="541.80" y="932.38" width="1.6" height="18.83"/><rect x="536.10" y="931.23" width="13" height="2.3"/><rect x="536.10" y="950.07" width="13" height="2.3"/><circle cx="542.60" cy="941.80" r="8.9"/></g>
<g fill="#d5580f"><rect x="541.80" y="1004.94" width="1.6" height="15.11"/><rect x="536.10" y="1003.79" width="13" height="2.3"/><rect x="536.10" y="1018.91" width="13" height="2.3"/><circle cx="542.60" cy="1012.50" r="8.9"/></g>
<g fill="#2ea67a"><rect x="562.30" y="938.53" width="1.6" height="18.55"/><rect x="556.60" y="937.38" width="13" height="2.3"/><rect x="556.60" y="955.92" width="13" height="2.3"/><circle cx="563.10" cy="947.80" r="8.9"/></g>
<g fill="#d5580f"><rect x="562.30" y="1013.70" width="1.6" height="14.60"/><rect x="556.60" y="1012.55" width="13" height="2.3"/><rect x="556.60" y="1027.15" width="13" height="2.3"/><circle cx="563.10" cy="1021.00" r="8.9"/></g>
<g fill="#2ea67a"><rect x="582.80" y="938.53" width="1.6" height="18.55"/><rect x="577.10" y="937.38" width="13" height="2.3"/><rect x="577.10" y="955.92" width="13" height="2.3"/><circle cx="583.60" cy="947.80" r="8.9"/></g>
<g fill="#d5580f"><rect x="582.80" y="1021.12" width="1.6" height="14.16"/><rect x="577.10" y="1019.97" width="13" height="2.3"/><rect x="577.10" y="1034.13" width="13" height="2.3"/><circle cx="583.60" cy="1028.20" r="8.9"/></g>
<g fill="#2ea67a"><rect x="603.30" y="946.72" width="1.6" height="18.16"/><rect x="597.60" y="945.57" width="13" height="2.3"/><rect x="597.60" y="963.73" width="13" height="2.3"/><circle cx="604.10" cy="955.80" r="8.9"/></g>
<g fill="#d5580f"><rect x="603.30" y="1003.81" width="1.6" height="15.18"/><rect x="597.60" y="1002.66" width="13" height="2.3"/><rect x="597.60" y="1017.84" width="13" height="2.3"/><circle cx="604.10" cy="1011.40" r="8.9"/></g>
<g fill="#2ea67a"><rect x="623.80" y="927.67" width="1.6" height="19.05"/><rect x="618.10" y="926.52" width="13" height="2.3"/><rect x="618.10" y="945.58" width="13" height="2.3"/><circle cx="624.60" cy="937.20" r="8.9"/></g>
<g fill="#d5580f"><rect x="623.80" y="1012.46" width="1.6" height="14.68"/><rect x="618.10" y="1011.31" width="13" height="2.3"/><rect x="618.10" y="1025.99" width="13" height="2.3"/><circle cx="624.60" cy="1019.80" r="8.9"/></g>
<g fill="#2ea67a"><rect x="644.30" y="952.56" width="1.6" height="17.87"/><rect x="638.60" y="951.41" width="13" height="2.3"/><rect x="638.60" y="969.29" width="13" height="2.3"/><circle cx="645.10" cy="961.50" r="8.9"/></g>
<g fill="#d5580f"><rect x="644.30" y="1010.92" width="1.6" height="14.77"/><rect x="638.60" y="1009.77" width="13" height="2.3"/><rect x="638.60" y="1024.53" width="13" height="2.3"/><circle cx="645.10" cy="1018.30" r="8.9"/></g>
<g fill="#2ea67a"><rect x="664.80" y="919.49" width="1.6" height="19.42"/><rect x="659.10" y="918.34" width="13" height="2.3"/><rect x="659.10" y="937.76" width="13" height="2.3"/><circle cx="665.60" cy="929.20" r="8.9"/></g>
<g fill="#d5580f"><rect x="664.80" y="1011.33" width="1.6" height="14.74"/><rect x="659.10" y="1010.18" width="13" height="2.3"/><rect x="659.10" y="1024.92" width="13" height="2.3"/><circle cx="665.60" cy="1018.70" r="8.9"/></g>
<g fill="#2ea67a"><rect x="685.30" y="924.30" width="1.6" height="19.20"/><rect x="679.60" y="923.15" width="13" height="2.3"/><rect x="679.60" y="942.35" width="13" height="2.3"/><circle cx="686.10" cy="933.90" r="8.9"/></g>
<g fill="#d5580f"><rect x="685.30" y="995.78" width="1.6" height="15.63"/><rect x="679.60" y="994.63" width="13" height="2.3"/><rect x="679.60" y="1010.27" width="13" height="2.3"/><circle cx="686.10" cy="1003.60" r="8.9"/></g>
<g fill="#2ea67a"><rect x="705.80" y="924.30" width="1.6" height="19.20"/><rect x="700.10" y="923.15" width="13" height="2.3"/><rect x="700.10" y="942.35" width="13" height="2.3"/><circle cx="706.60" cy="933.90" r="8.9"/></g>
<g fill="#d5580f"><rect x="705.80" y="1006.59" width="1.6" height="15.02"/><rect x="700.10" y="1005.44" width="13" height="2.3"/><rect x="700.10" y="1020.46" width="13" height="2.3"/><circle cx="706.60" cy="1014.10" r="8.9"/></g>
<g fill="#2ea67a"><rect x="726.30" y="923.17" width="1.6" height="19.26"/><rect x="720.60" y="922.02" width="13" height="2.3"/><rect x="720.60" y="941.28" width="13" height="2.3"/><circle cx="727.10" cy="932.80" r="8.9"/></g>
<g fill="#d5580f"><rect x="726.30" y="993.83" width="1.6" height="15.74"/><rect x="720.60" y="992.68" width="13" height="2.3"/><rect x="720.60" y="1008.42" width="13" height="2.3"/><circle cx="727.10" cy="1001.70" r="8.9"/></g>
<g fill="#2ea67a"><rect x="746.80" y="943.44" width="1.6" height="18.31"/><rect x="741.10" y="942.29" width="13" height="2.3"/><rect x="741.10" y="960.61" width="13" height="2.3"/><circle cx="747.60" cy="952.60" r="8.9"/></g>
<g fill="#d5580f"><rect x="746.80" y="1010.09" width="1.6" height="14.82"/><rect x="741.10" y="1008.94" width="13" height="2.3"/><rect x="741.10" y="1023.76" width="13" height="2.3"/><circle cx="747.60" cy="1017.50" r="8.9"/></g>
<g fill="#2ea67a"><rect x="767.30" y="905.27" width="1.6" height="20.05"/><rect x="761.60" y="904.12" width="13" height="2.3"/><rect x="761.60" y="924.18" width="13" height="2.3"/><circle cx="768.10" cy="915.30" r="8.9"/></g>
<g fill="#d5580f"><rect x="767.30" y="1003.09" width="1.6" height="15.22"/><rect x="761.60" y="1001.94" width="13" height="2.3"/><rect x="761.60" y="1017.16" width="13" height="2.3"/><circle cx="768.10" cy="1010.70" r="8.9"/></g>
<g fill="#2ea67a"><rect x="787.80" y="915.19" width="1.6" height="19.61"/><rect x="782.10" y="914.04" width="13" height="2.3"/><rect x="782.10" y="933.66" width="13" height="2.3"/><circle cx="788.60" cy="925.00" r="8.9"/></g>
<g fill="#d5580f"><rect x="787.80" y="987.46" width="1.6" height="16.09"/><rect x="782.10" y="986.31" width="13" height="2.3"/><rect x="782.10" y="1002.39" width="13" height="2.3"/><circle cx="788.60" cy="995.50" r="8.9"/></g>
<g fill="#2ea67a"><rect x="808.30" y="929.11" width="1.6" height="18.98"/><rect x="802.60" y="927.96" width="13" height="2.3"/><rect x="802.60" y="946.94" width="13" height="2.3"/><circle cx="809.10" cy="938.60" r="8.9"/></g>
<g fill="#d5580f"><rect x="808.30" y="995.17" width="1.6" height="15.67"/><rect x="802.60" y="994.02" width="13" height="2.3"/><rect x="802.60" y="1009.68" width="13" height="2.3"/><circle cx="809.10" cy="1003.00" r="8.9"/></g>
<g fill="#2ea67a"><rect x="828.80" y="928.60" width="1.6" height="19.01"/><rect x="823.10" y="927.45" width="13" height="2.3"/><rect x="823.10" y="946.45" width="13" height="2.3"/><circle cx="829.60" cy="938.10" r="8.9"/></g>
<g fill="#d5580f"><rect x="828.80" y="983.65" width="1.6" height="16.29"/><rect x="823.10" y="982.50" width="13" height="2.3"/><rect x="823.10" y="998.80" width="13" height="2.3"/><circle cx="829.60" cy="991.80" r="8.9"/></g>
<g fill="#2ea67a"><rect x="849.30" y="917.65" width="1.6" height="19.50"/><rect x="843.60" y="916.50" width="13" height="2.3"/><rect x="843.60" y="936.00" width="13" height="2.3"/><circle cx="850.10" cy="927.40" r="8.9"/></g>
<g fill="#d5580f"><rect x="849.30" y="1003.91" width="1.6" height="15.17"/><rect x="843.60" y="1002.76" width="13" height="2.3"/><rect x="843.60" y="1017.94" width="13" height="2.3"/><circle cx="850.10" cy="1011.50" r="8.9"/></g>
<g fill="#2ea67a"><rect x="869.80" y="922.35" width="1.6" height="19.29"/><rect x="864.10" y="921.20" width="13" height="2.3"/><rect x="864.10" y="940.50" width="13" height="2.3"/><circle cx="870.60" cy="932.00" r="8.9"/></g>
<g fill="#d5580f"><rect x="869.80" y="1008.86" width="1.6" height="14.89"/><rect x="864.10" y="1007.71" width="13" height="2.3"/><rect x="864.10" y="1022.59" width="13" height="2.3"/><circle cx="870.60" cy="1016.30" r="8.9"/></g>
<g fill="#2ea67a"><rect x="890.30" y="915.91" width="1.6" height="19.58"/><rect x="884.60" y="914.76" width="13" height="2.3"/><rect x="884.60" y="934.34" width="13" height="2.3"/><circle cx="891.10" cy="925.70" r="8.9"/></g>
<g fill="#d5580f"><rect x="890.30" y="1009.37" width="1.6" height="14.86"/><rect x="884.60" y="1008.22" width="13" height="2.3"/><rect x="884.60" y="1023.08" width="13" height="2.3"/><circle cx="891.10" cy="1016.80" r="8.9"/></g>
<g fill="#2ea67a"><rect x="910.80" y="929.82" width="1.6" height="18.95"/><rect x="905.10" y="928.67" width="13" height="2.3"/><rect x="905.10" y="947.63" width="13" height="2.3"/><circle cx="911.60" cy="939.30" r="8.9"/></g>
<g fill="#d5580f"><rect x="910.80" y="1005.66" width="1.6" height="15.07"/><rect x="905.10" y="1004.51" width="13" height="2.3"/><rect x="905.10" y="1019.59" width="13" height="2.3"/><circle cx="911.60" cy="1013.20" r="8.9"/></g>
<polyline points="173.40,1391.41 193.90,1345.02 214.40,1301.00 234.90,1261.33 255.40,1227.77 275.90,1201.85 296.40,1184.71 316.90,1177.12 337.40,1179.43 357.90,1191.53 378.40,1212.87 398.90,1242.51 419.40,1279.12 439.90,1321.05 460.40,1366.42 480.90,1413.21 501.40,1459.32 521.90,1502.68 542.40,1541.35 562.90,1573.59 583.40,1597.97 603.90,1613.39 624.40,1619.15 644.90,1615.01 665.40,1601.15 685.90,1578.18 706.40,1547.14 726.90,1509.42 747.40,1466.70 767.90,1420.91 788.40,1374.08 808.90,1328.33 829.40,1285.70 849.90,1248.10 870.40,1217.21 890.90,1194.42 911.40,1180.75" fill="none" stroke="#000" stroke-width="3" stroke-linejoin="round"/>
<g fill="#1f6fb3"><rect x="172.85" y="1305.24" width="1.5" height="22.12"/><rect x="167.20" y="1304.09" width="12.8" height="2.3"/><rect x="167.20" y="1326.21" width="12.8" height="2.3"/><rect x="164.50" y="1315.55" width="18.2" height="1.5"/><rect x="163.35" y="1310.00" width="2.3" height="12.6"/><rect x="181.55" y="1310.00" width="2.3" height="12.6"/></g><circle cx="173.60" cy="1316.30" r="8.6" fill="#2f7ab9"/>
<g fill="#1f6fb3"><rect x="193.35" y="1315.92" width="1.5" height="21.75"/><rect x="187.70" y="1314.77" width="12.8" height="2.3"/><rect x="187.70" y="1336.53" width="12.8" height="2.3"/><rect x="185.00" y="1326.05" width="18.2" height="1.5"/><rect x="183.85" y="1320.50" width="2.3" height="12.6"/><rect x="202.05" y="1320.50" width="2.3" height="12.6"/></g><circle cx="194.10" cy="1326.80" r="8.6" fill="#2f7ab9"/>
<g fill="#1f6fb3"><rect x="213.85" y="1261.11" width="1.5" height="23.57"/><rect x="208.20" y="1259.96" width="12.8" height="2.3"/><rect x="208.20" y="1283.54" width="12.8" height="2.3"/><rect x="205.50" y="1272.15" width="18.2" height="1.5"/><rect x="204.35" y="1266.60" width="2.3" height="12.6"/><rect x="222.55" y="1266.60" width="2.3" height="12.6"/></g><circle cx="214.60" cy="1272.90" r="8.6" fill="#2f7ab9"/>
<g fill="#1f6fb3"><rect x="234.35" y="1223.12" width="1.5" height="24.76"/><rect x="228.70" y="1221.97" width="12.8" height="2.3"/><rect x="228.70" y="1246.73" width="12.8" height="2.3"/><rect x="226.00" y="1234.75" width="18.2" height="1.5"/><rect x="224.85" y="1229.20" width="2.3" height="12.6"/><rect x="243.05" y="1229.20" width="2.3" height="12.6"/></g><circle cx="235.10" cy="1235.50" r="8.6" fill="#2f7ab9"/>
<g fill="#1f6fb3"><rect x="254.85" y="1127.03" width="1.5" height="27.53"/><rect x="249.20" y="1125.88" width="12.8" height="2.3"/><rect x="249.20" y="1153.42" width="12.8" height="2.3"/><rect x="246.50" y="1140.05" width="18.2" height="1.5"/><rect x="245.35" y="1134.50" width="2.3" height="12.6"/><rect x="263.55" y="1134.50" width="2.3" height="12.6"/></g><circle cx="255.60" cy="1140.80" r="8.6" fill="#2f7ab9"/>
<g fill="#1f6fb3"><rect x="275.35" y="1194.29" width="1.5" height="25.62"/><rect x="269.70" y="1193.14" width="12.8" height="2.3"/><rect x="269.70" y="1218.76" width="12.8" height="2.3"/><rect x="267.00" y="1206.35" width="18.2" height="1.5"/><rect x="265.85" y="1200.80" width="2.3" height="12.6"/><rect x="284.05" y="1200.80" width="2.3" height="12.6"/></g><circle cx="276.10" cy="1207.10" r="8.6" fill="#2f7ab9"/>
<g fill="#1f6fb3"><rect x="295.85" y="1157.76" width="1.5" height="26.67"/><rect x="290.20" y="1156.61" width="12.8" height="2.3"/><rect x="290.20" y="1183.29" width="12.8" height="2.3"/><rect x="287.50" y="1170.35" width="18.2" height="1.5"/><rect x="286.35" y="1164.80" width="2.3" height="12.6"/><rect x="304.55" y="1164.80" width="2.3" height="12.6"/></g><circle cx="296.60" cy="1171.10" r="8.6" fill="#2f7ab9"/>
<g fill="#1f6fb3"><rect x="316.35" y="1185.26" width="1.5" height="25.88"/><rect x="310.70" y="1184.11" width="12.8" height="2.3"/><rect x="310.70" y="1209.99" width="12.8" height="2.3"/><rect x="308.00" y="1197.45" width="18.2" height="1.5"/><rect x="306.85" y="1191.90" width="2.3" height="12.6"/><rect x="325.05" y="1191.90" width="2.3" height="12.6"/></g><circle cx="317.10" cy="1198.20" r="8.6" fill="#2f7ab9"/>
<g fill="#1f6fb3"><rect x="336.85" y="1221.29" width="1.5" height="24.81"/><rect x="331.20" y="1220.14" width="12.8" height="2.3"/><rect x="331.20" y="1244.96" width="12.8" height="2.3"/><rect x="328.50" y="1232.95" width="18.2" height="1.5"/><rect x="327.35" y="1227.40" width="2.3" height="12.6"/><rect x="345.55" y="1227.40" width="2.3" height="12.6"/></g><circle cx="337.60" cy="1233.70" r="8.6" fill="#2f7ab9"/>
<g fill="#1f6fb3"><rect x="357.35" y="1152.39" width="1.5" height="26.83"/><rect x="351.70" y="1151.24" width="12.8" height="2.3"/><rect x="351.70" y="1178.06" width="12.8" height="2.3"/><rect x="349.00" y="1165.05" width="18.2" height="1.5"/><rect x="347.85" y="1159.50" width="2.3" height="12.6"/><rect x="366.05" y="1159.50" width="2.3" height="12.6"/></g><circle cx="358.10" cy="1165.80" r="8.6" fill="#2f7ab9"/>
<g fill="#1f6fb3"><rect x="377.85" y="1167.10" width="1.5" height="26.41"/><rect x="372.20" y="1165.95" width="12.8" height="2.3"/><rect x="372.20" y="1192.35" width="12.8" height="2.3"/><rect x="369.50" y="1179.55" width="18.2" height="1.5"/><rect x="368.35" y="1174.00" width="2.3" height="12.6"/><rect x="386.55" y="1174.00" width="2.3" height="12.6"/></g><circle cx="378.60" cy="1180.30" r="8.6" fill="#2f7ab9"/>
<g fill="#1f6fb3"><rect x="398.35" y="1282.76" width="1.5" height="22.87"/><rect x="392.70" y="1281.61" width="12.8" height="2.3"/><rect x="392.70" y="1304.49" width="12.8" height="2.3"/><rect x="390.00" y="1293.45" width="18.2" height="1.5"/><rect x="388.85" y="1287.90" width="2.3" height="12.6"/><rect x="407.05" y="1287.90" width="2.3" height="12.6"/></g><circle cx="399.10" cy="1294.20" r="8.6" fill="#2f7ab9"/>
<g fill="#1f6fb3"><rect x="418.85" y="1286.02" width="1.5" height="22.76"/><rect x="413.20" y="1284.87" width="12.8" height="2.3"/><rect x="413.20" y="1307.63" width="12.8" height="2.3"/><rect x="410.50" y="1296.65" width="18.2" height="1.5"/><rect x="409.35" y="1291.10" width="2.3" height="12.6"/><rect x="427.55" y="1291.10" width="2.3" height="12.6"/></g><circle cx="419.60" cy="1297.40" r="8.6" fill="#2f7ab9"/>
<g fill="#1f6fb3"><rect x="439.35" y="1359.30" width="1.5" height="20.20"/><rect x="433.70" y="1358.15" width="12.8" height="2.3"/><rect x="433.70" y="1378.35" width="12.8" height="2.3"/><rect x="431.00" y="1368.65" width="18.2" height="1.5"/><rect x="429.85" y="1363.10" width="2.3" height="12.6"/><rect x="448.05" y="1363.10" width="2.3" height="12.6"/></g><circle cx="440.10" cy="1369.40" r="8.6" fill="#2f7ab9"/>
<g fill="#1f6fb3"><rect x="459.85" y="1387.24" width="1.5" height="19.13"/><rect x="454.20" y="1386.09" width="12.8" height="2.3"/><rect x="454.20" y="1405.21" width="12.8" height="2.3"/><rect x="451.50" y="1396.05" width="18.2" height="1.5"/><rect x="450.35" y="1390.50" width="2.3" height="12.6"/><rect x="468.55" y="1390.50" width="2.3" height="12.6"/></g><circle cx="460.60" cy="1396.80" r="8.6" fill="#2f7ab9"/>
<g fill="#1f6fb3"><rect x="480.35" y="1404.07" width="1.5" height="18.46"/><rect x="474.70" y="1402.92" width="12.8" height="2.3"/><rect x="474.70" y="1421.38" width="12.8" height="2.3"/><rect x="472.00" y="1412.55" width="18.2" height="1.5"/><rect x="470.85" y="1407.00" width="2.3" height="12.6"/><rect x="489.05" y="1407.00" width="2.3" height="12.6"/></g><circle cx="481.10" cy="1413.30" r="8.6" fill="#2f7ab9"/>
<g fill="#1f6fb3"><rect x="500.85" y="1435.64" width="1.5" height="17.13"/><rect x="495.20" y="1434.49" width="12.8" height="2.3"/><rect x="495.20" y="1451.61" width="12.8" height="2.3"/><rect x="492.50" y="1443.45" width="18.2" height="1.5"/><rect x="491.35" y="1437.90" width="2.3" height="12.6"/><rect x="509.55" y="1437.90" width="2.3" height="12.6"/></g><circle cx="501.60" cy="1444.20" r="8.6" fill="#2f7ab9"/>
<g fill="#1f6fb3"><rect x="521.35" y="1498.75" width="1.5" height="14.11"/><rect x="515.70" y="1497.60" width="12.8" height="2.3"/><rect x="515.70" y="1511.70" width="12.8" height="2.3"/><rect x="513.00" y="1505.05" width="18.2" height="1.5"/><rect x="511.85" y="1499.50" width="2.3" height="12.6"/><rect x="530.05" y="1499.50" width="2.3" height="12.6"/></g><circle cx="522.10" cy="1505.80" r="8.6" fill="#2f7ab9"/>
<g fill="#1f6fb3"><rect x="541.85" y="1508.51" width="1.5" height="13.58"/><rect x="536.20" y="1507.36" width="12.8" height="2.3"/><rect x="536.20" y="1520.94" width="12.8" height="2.3"/><rect x="533.50" y="1514.55" width="18.2" height="1.5"/><rect x="532.35" y="1509.00" width="2.3" height="12.6"/><rect x="550.55" y="1509.00" width="2.3" height="12.6"/></g><circle cx="542.60" cy="1515.30" r="8.6" fill="#2f7ab9"/>
<g fill="#1f6fb3"><rect x="562.35" y="1530.54" width="1.5" height="12.32"/><rect x="556.70" y="1529.39" width="12.8" height="2.3"/><rect x="556.70" y="1541.71" width="12.8" height="2.3"/><rect x="554.00" y="1535.95" width="18.2" height="1.5"/><rect x="552.85" y="1530.40" width="2.3" height="12.6"/><rect x="571.05" y="1530.40" width="2.3" height="12.6"/></g><circle cx="563.10" cy="1536.70" r="8.6" fill="#2f7ab9"/>
<g fill="#1f6fb3"><rect x="582.85" y="1598.51" width="1.5" height="7.18"/><rect x="577.20" y="1597.36" width="12.8" height="2.3"/><rect x="577.20" y="1604.54" width="12.8" height="2.3"/><rect x="574.50" y="1601.35" width="18.2" height="1.5"/><rect x="573.35" y="1595.80" width="2.3" height="12.6"/><rect x="591.55" y="1595.80" width="2.3" height="12.6"/></g><circle cx="583.60" cy="1602.10" r="8.6" fill="#2f7ab9"/>
<g fill="#1f6fb3"><rect x="603.35" y="1587.91" width="1.5" height="8.19"/><rect x="597.70" y="1586.76" width="12.8" height="2.3"/><rect x="597.70" y="1594.94" width="12.8" height="2.3"/><rect x="595.00" y="1591.25" width="18.2" height="1.5"/><rect x="593.85" y="1585.70" width="2.3" height="12.6"/><rect x="612.05" y="1585.70" width="2.3" height="12.6"/></g><circle cx="604.10" cy="1592.00" r="8.6" fill="#2f7ab9"/>
<g fill="#1f6fb3"><rect x="623.85" y="1603.47" width="1.5" height="6.66"/><rect x="618.20" y="1602.32" width="12.8" height="2.3"/><rect x="618.20" y="1608.98" width="12.8" height="2.3"/><rect x="615.50" y="1606.05" width="18.2" height="1.5"/><rect x="614.35" y="1600.50" width="2.3" height="12.6"/><rect x="632.55" y="1600.50" width="2.3" height="12.6"/></g><circle cx="624.60" cy="1606.80" r="8.6" fill="#2f7ab9"/>
<g fill="#1f6fb3"><rect x="644.35" y="1623.84" width="1.5" height="3.91"/><rect x="638.70" y="1622.69" width="12.8" height="2.3"/><rect x="638.70" y="1626.61" width="12.8" height="2.3"/><rect x="636.00" y="1625.05" width="18.2" height="1.5"/><rect x="634.85" y="1619.50" width="2.3" height="12.6"/><rect x="653.05" y="1619.50" width="2.3" height="12.6"/></g><circle cx="645.10" cy="1625.80" r="8.6" fill="#2f7ab9"/>
<g fill="#1f6fb3"><rect x="664.85" y="1608.13" width="1.5" height="6.14"/><rect x="659.20" y="1606.98" width="12.8" height="2.3"/><rect x="659.20" y="1613.12" width="12.8" height="2.3"/><rect x="656.50" y="1610.45" width="18.2" height="1.5"/><rect x="655.35" y="1604.90" width="2.3" height="12.6"/><rect x="673.55" y="1604.90" width="2.3" height="12.6"/></g><circle cx="665.60" cy="1611.20" r="8.6" fill="#2f7ab9"/>
<g fill="#1f6fb3"><rect x="685.35" y="1571.42" width="1.5" height="9.55"/><rect x="679.70" y="1570.27" width="12.8" height="2.3"/><rect x="679.70" y="1579.83" width="12.8" height="2.3"/><rect x="677.00" y="1575.45" width="18.2" height="1.5"/><rect x="675.85" y="1569.90" width="2.3" height="12.6"/><rect x="694.05" y="1569.90" width="2.3" height="12.6"/></g><circle cx="686.10" cy="1576.20" r="8.6" fill="#2f7ab9"/>
<g fill="#1f6fb3"><rect x="705.85" y="1576.00" width="1.5" height="9.19"/><rect x="700.20" y="1574.85" width="12.8" height="2.3"/><rect x="700.20" y="1584.05" width="12.8" height="2.3"/><rect x="697.50" y="1579.85" width="18.2" height="1.5"/><rect x="696.35" y="1574.30" width="2.3" height="12.6"/><rect x="714.55" y="1574.30" width="2.3" height="12.6"/></g><circle cx="706.60" cy="1580.60" r="8.6" fill="#2f7ab9"/>
<g fill="#1f6fb3"><rect x="726.35" y="1529.61" width="1.5" height="12.37"/><rect x="720.70" y="1528.46" width="12.8" height="2.3"/><rect x="720.70" y="1540.84" width="12.8" height="2.3"/><rect x="718.00" y="1535.05" width="18.2" height="1.5"/><rect x="716.85" y="1529.50" width="2.3" height="12.6"/><rect x="735.05" y="1529.50" width="2.3" height="12.6"/></g><circle cx="727.10" cy="1535.80" r="8.6" fill="#2f7ab9"/>
<g fill="#1f6fb3"><rect x="746.85" y="1506.86" width="1.5" height="13.67"/><rect x="741.20" y="1505.71" width="12.8" height="2.3"/><rect x="741.20" y="1519.39" width="12.8" height="2.3"/><rect x="738.50" y="1512.95" width="18.2" height="1.5"/><rect x="737.35" y="1507.40" width="2.3" height="12.6"/><rect x="755.55" y="1507.40" width="2.3" height="12.6"/></g><circle cx="747.60" cy="1513.70" r="8.6" fill="#2f7ab9"/>
<g fill="#1f6fb3"><rect x="767.35" y="1435.02" width="1.5" height="17.15"/><rect x="761.70" y="1433.87" width="12.8" height="2.3"/><rect x="761.70" y="1451.03" width="12.8" height="2.3"/><rect x="759.00" y="1442.85" width="18.2" height="1.5"/><rect x="757.85" y="1437.30" width="2.3" height="12.6"/><rect x="776.05" y="1437.30" width="2.3" height="12.6"/></g><circle cx="768.10" cy="1443.60" r="8.6" fill="#2f7ab9"/>
<g fill="#1f6fb3"><rect x="787.85" y="1341.27" width="1.5" height="20.86"/><rect x="782.20" y="1340.12" width="12.8" height="2.3"/><rect x="782.20" y="1360.98" width="12.8" height="2.3"/><rect x="779.50" y="1350.95" width="18.2" height="1.5"/><rect x="778.35" y="1345.40" width="2.3" height="12.6"/><rect x="796.55" y="1345.40" width="2.3" height="12.6"/></g><circle cx="788.60" cy="1351.70" r="8.6" fill="#2f7ab9"/>
<g fill="#1f6fb3"><rect x="808.35" y="1360.52" width="1.5" height="20.15"/><rect x="802.70" y="1359.37" width="12.8" height="2.3"/><rect x="802.70" y="1379.53" width="12.8" height="2.3"/><rect x="800.00" y="1369.85" width="18.2" height="1.5"/><rect x="798.85" y="1364.30" width="2.3" height="12.6"/><rect x="817.05" y="1364.30" width="2.3" height="12.6"/></g><circle cx="809.10" cy="1370.60" r="8.6" fill="#2f7ab9"/>
<g fill="#1f6fb3"><rect x="828.85" y="1284.39" width="1.5" height="22.82"/><rect x="823.20" y="1283.24" width="12.8" height="2.3"/><rect x="823.20" y="1306.06" width="12.8" height="2.3"/><rect x="820.50" y="1295.05" width="18.2" height="1.5"/><rect x="819.35" y="1289.50" width="2.3" height="12.6"/><rect x="837.55" y="1289.50" width="2.3" height="12.6"/></g><circle cx="829.60" cy="1295.80" r="8.6" fill="#2f7ab9"/>
<g fill="#1f6fb3"><rect x="849.35" y="1251.36" width="1.5" height="23.88"/><rect x="843.70" y="1250.21" width="12.8" height="2.3"/><rect x="843.70" y="1274.09" width="12.8" height="2.3"/><rect x="841.00" y="1262.55" width="18.2" height="1.5"/><rect x="839.85" y="1257.00" width="2.3" height="12.6"/><rect x="858.05" y="1257.00" width="2.3" height="12.6"/></g><circle cx="850.10" cy="1263.30" r="8.6" fill="#2f7ab9"/>
<g fill="#1f6fb3"><rect x="869.85" y="1195.51" width="1.5" height="25.58"/><rect x="864.20" y="1194.36" width="12.8" height="2.3"/><rect x="864.20" y="1219.94" width="12.8" height="2.3"/><rect x="861.50" y="1207.55" width="18.2" height="1.5"/><rect x="860.35" y="1202.00" width="2.3" height="12.6"/><rect x="878.55" y="1202.00" width="2.3" height="12.6"/></g><circle cx="870.60" cy="1208.30" r="8.6" fill="#2f7ab9"/>
<g fill="#1f6fb3"><rect x="890.35" y="1196.12" width="1.5" height="25.57"/><rect x="884.70" y="1194.97" width="12.8" height="2.3"/><rect x="884.70" y="1220.53" width="12.8" height="2.3"/><rect x="882.00" y="1208.15" width="18.2" height="1.5"/><rect x="880.85" y="1202.60" width="2.3" height="12.6"/><rect x="899.05" y="1202.60" width="2.3" height="12.6"/></g><circle cx="891.10" cy="1208.90" r="8.6" fill="#2f7ab9"/>
<g fill="#1f6fb3"><rect x="910.85" y="1150.36" width="1.5" height="26.88"/><rect x="905.20" y="1149.21" width="12.8" height="2.3"/><rect x="905.20" y="1176.09" width="12.8" height="2.3"/><rect x="902.50" y="1163.05" width="18.2" height="1.5"/><rect x="901.35" y="1157.50" width="2.3" height="12.6"/><rect x="919.55" y="1157.50" width="2.3" height="12.6"/></g><circle cx="911.60" cy="1163.80" r="8.6" fill="#2f7ab9"/>
<g fill="none" stroke="#000" stroke-width="1.7"><rect x="137.00" y="11.80" width="811.60" height="725.20"/><line x1="137.00" y1="374.20" x2="948.60" y2="374.20"/><line x1="543.00" y1="11.80" x2="543.00" y2="737.00"/><rect x="137.00" y="872.20" width="811.60" height="178.60"/><rect x="137.00" y="1099.90" width="811.60" height="535.90"/></g>
<g class="gs">
<text class="thin" x="124.90" y="24.30" text-anchor="end" style="font-family:&quot;Liberation Sans&quot;,sans-serif;font-size:35.3px">800</text>
<text class="thin" x="124.90" y="115.40" text-anchor="end" style="font-family:&quot;Liberation Sans&quot;,sans-serif;font-size:35.3px">600</text>
<text class="thin" x="124.90" y="205.70" text-anchor="end" style="font-family:&quot;Liberation Sans&quot;,sans-serif;font-size:35.3px">400</text>
<text class="thin" x="124.90" y="296.20" text-anchor="end" style="font-family:&quot;Liberation Sans&quot;,sans-serif;font-size:35.3px">200</text>
<text class="thin" x="124.90" y="384.30" text-anchor="end" style="font-family:&quot;Liberation Sans&quot;,sans-serif;font-size:35.3px">0</text>
<text class="thin" x="124.90" y="475.90" text-anchor="end" style="font-family:&quot;Liberation Sans&quot;,sans-serif;font-size:35.3px">600</text>
<text class="thin" x="124.90" y="569.40" text-anchor="end" style="font-family:&quot;Liberation Sans&quot;,sans-serif;font-size:35.3px">400</text>
<text class="thin" x="124.90" y="659.20" text-anchor="end" style="font-family:&quot;Liberation Sans&quot;,sans-serif;font-size:35.3px">200</text>
<text class="thin" x="124.90" y="750.60" text-anchor="end" style="font-family:&quot;Liberation Sans&quot;,sans-serif;font-size:35.3px">0</text>
<text class="thin" x="138.80" y="777.60" text-anchor="middle" style="font-family:&quot;Liberation Sans&quot;,sans-serif;font-size:35.3px">10</text>
<text class="thin" x="214.80" y="777.60" text-anchor="middle" style="font-family:&quot;Liberation Sans&quot;,sans-serif;font-size:35.3px">15</text>
<text class="thin" x="290.80" y="777.60" text-anchor="middle" style="font-family:&quot;Liberation Sans&quot;,sans-serif;font-size:35.3px">20</text>
<text class="thin" x="366.80" y="779.40" text-anchor="middle" style="font-family:&quot;Liberation Sans&quot;,sans-serif;font-size:35.3px">25</text>
<text class="thin" x="442.80" y="777.60" text-anchor="middle" style="font-family:&quot;Liberation Sans&quot;,sans-serif;font-size:35.3px">30</text>
<text class="thin" x="544.80" y="777.60" text-anchor="middle" style="font-family:&quot;Liberation Sans&quot;,sans-serif;font-size:35.3px">10</text>
<text class="thin" x="620.80" y="777.60" text-anchor="middle" style="font-family:&quot;Liberation Sans&quot;,sans-serif;font-size:35.3px">15</text>
<text class="thin" x="696.80" y="777.60" text-anchor="middle" style="font-family:&quot;Liberation Sans&quot;,sans-serif;font-size:35.3px">20</text>
<text class="thin" x="772.80" y="779.40" text-anchor="middle" style="font-family:&quot;Liberation Sans&quot;,sans-serif;font-size:35.3px">25</text>
<text class="thin" x="848.80" y="777.60" text-anchor="middle" style="font-family:&quot;Liberation Sans&quot;,sans-serif;font-size:35.3px">30</text>
<text class="thin" x="924.80" y="777.60" text-anchor="middle" style="font-family:&quot;Liberation Sans&quot;,sans-serif;font-size:35.3px">35</text>
<text class="thin" x="124.90" y="884.90" text-anchor="end" style="font-family:&quot;Liberation Sans&quot;,sans-serif;font-size:35.3px">600</text>
<text class="thin" x="124.90" y="974.20" text-anchor="end" style="font-family:&quot;Liberation Sans&quot;,sans-serif;font-size:35.3px">400</text>
<text class="thin" x="124.90" y="1063.50" text-anchor="end" style="font-family:&quot;Liberation Sans&quot;,sans-serif;font-size:35.3px">200</text>
<text class="thin" x="124.90" y="1114.00" text-anchor="end" style="font-family:&quot;Liberation Sans&quot;,sans-serif;font-size:35.3px">1400</text>
<text class="thin" x="124.90" y="1188.30" text-anchor="end" style="font-family:&quot;Liberation Sans&quot;,sans-serif;font-size:35.3px">1200</text>
<text class="thin" x="124.90" y="1264.60" text-anchor="end" style="font-family:&quot;Liberation Sans&quot;,sans-serif;font-size:35.3px">1000</text>
<text class="thin" x="124.90" y="1341.20" text-anchor="end" style="font-family:&quot;Liberation Sans&quot;,sans-serif;font-size:35.3px">800</text>
<text class="thin" x="124.90" y="1417.80" text-anchor="end" style="font-family:&quot;Liberation Sans&quot;,sans-serif;font-size:35.3px">600</text>
<text class="thin" x="124.90" y="1494.00" text-anchor="end" style="font-family:&quot;Liberation Sans&quot;,sans-serif;font-size:35.3px">400</text>
<text class="thin" x="124.90" y="1572.30" text-anchor="end" style="font-family:&quot;Liberation Sans&quot;,sans-serif;font-size:35.3px">200</text>
<text class="thin" x="124.90" y="1646.60" text-anchor="end" style="font-family:&quot;Liberation Sans&quot;,sans-serif;font-size:35.3px">0</text>
<text class="thin" x="173.70" y="1674.00" text-anchor="middle" style="font-family:&quot;Liberation Sans&quot;,sans-serif;font-size:35.3px">0</text>
<text class="thin" x="342.45" y="1674.00" text-anchor="middle" style="font-family:&quot;Liberation Sans&quot;,sans-serif;font-size:35.3px">100</text>
<text class="thin" x="511.20" y="1674.00" text-anchor="middle" style="font-family:&quot;Liberation Sans&quot;,sans-serif;font-size:35.3px">200</text>
<text class="thin" x="679.95" y="1674.00" text-anchor="middle" style="font-family:&quot;Liberation Sans&quot;,sans-serif;font-size:35.3px">300</text>
<text class="thin" x="848.70" y="1674.00" text-anchor="middle" style="font-family:&quot;Liberation Sans&quot;,sans-serif;font-size:35.3px">400</text>
<text class="thin" x="545.7" y="829.4" text-anchor="middle" textLength="152" lengthAdjust="spacingAndGlyphs" style="font-family:&quot;Liberation Sans&quot;,sans-serif;font-size:35.3px">Time [ns]</text>
<text class="thin" transform="translate(47.1,384) rotate(-90)" text-anchor="middle" textLength="342" lengthAdjust="spacingAndGlyphs" style="font-family:&quot;Liberation Sans&quot;,sans-serif;font-size:35.3px">Coincidence rate [Hz]</text>
<text class="thin" transform="translate(24.8,1257.4) rotate(-90)" text-anchor="middle" textLength="340" lengthAdjust="spacingAndGlyphs" style="font-family:&quot;Liberation Sans&quot;,sans-serif;font-size:35.3px">Coincidence rate [Hz]</text>
<text transform="translate(143.73,45.50) scale(0.9738,1.0000)" style="font-family:&quot;Liberation Sans&quot;,sans-serif;font-weight:bold;font-size:36.0px">a</text>
<text transform="translate(558.48,45.77) scale(1.0691,1.0868)" style="font-family:&quot;Liberation Sans&quot;,sans-serif;font-weight:bold;font-size:36.0px">b</text>
<text transform="translate(142.76,405.50) scale(1.0286,1.0051)" style="font-family:&quot;Liberation Sans&quot;,sans-serif;font-weight:bold;font-size:36.0px">c</text>
<text transform="translate(554.43,405.57) scale(1.0497,1.0868)" style="font-family:&quot;Liberation Sans&quot;,sans-serif;font-weight:bold;font-size:36.0px">d</text>
<text transform="translate(141.81,898.09) scale(1.1322,1.0152)" style="font-family:&quot;Liberation Sans&quot;,sans-serif;font-weight:bold;font-size:36.0px">e</text>
<text transform="translate(147.50,1135.80) scale(1.1739,1.0345)" style="font-family:&quot;Liberation Sans&quot;,sans-serif;font-weight:bold;font-size:36.0px">f</text>
</g>
<g class="m gs"><g transform="translate(346.90,27.90) scale(1.0000,1.0000)" fill="none" stroke="#000" stroke-linecap="round"><path d="M3.9,0.6 C2.1,2.6 0.7,5 0.8,7.2 C1.0,10.2 3.3,12.0 6.0,11.9 C9.2,11.8 13.2,11.0 15.5,8.3 C17.2,6.3 17.4,3.0 15.9,1.6 C14.6,0.4 12.3,0.6 10.6,1.7 C8.4,3.2 7.4,7.0 6.9,11.0" stroke-width="1.25"/><path d="M6.9,11.0 L5.0,18.6" stroke-width="1.70"/></g>
<text transform="translate(366.81,45.71) scale(1.0867,0.9703)" style="font-family:&quot;Liberation Serif&quot;,serif;font-style:italic;font-size:21.0px">s</text>
<text class="e" transform="translate(384.00,47.57) scale(1.4000,1.3885)" style="font-family:&quot;Liberation Serif&quot;,serif;font-size:30.0px">+</text>
<g transform="translate(415.10,27.90) scale(1.0000,1.0000)" fill="none" stroke="#000" stroke-linecap="round"><path d="M3.9,0.6 C2.1,2.6 0.7,5 0.8,7.2 C1.0,10.2 3.3,12.0 6.0,11.9 C9.2,11.8 13.2,11.0 15.5,8.3 C17.2,6.3 17.4,3.0 15.9,1.6 C14.6,0.4 12.3,0.6 10.6,1.7 C8.4,3.2 7.4,7.0 6.9,11.0" stroke-width="1.25"/><path d="M6.9,11.0 L5.0,18.6" stroke-width="1.70"/></g>
<text transform="translate(433.84,45.90) scale(1.1442,1.0216)" style="font-family:&quot;Liberation Serif&quot;,serif;font-style:italic;font-size:21.0px">i</text>
<text class="e" transform="translate(450.64,43.32) scale(1.4429,0.9867)" style="font-family:&quot;Liberation Serif&quot;,serif;font-size:30.0px">=</text>
<text class="e" transform="translate(481.82,41.49) scale(1.0323,1.0246)" style="font-family:&quot;Liberation Serif&quot;,serif;font-size:30.0px">110</text>
<text class="e" transform="translate(528.19,38.18) scale(0.9341,0.9341)" style="font-family:&quot;Liberation Serif&quot;,serif;font-size:30.0px">°</text>
<g transform="translate(752.20,27.50) scale(1.0000,1.0000)" fill="none" stroke="#000" stroke-linecap="round"><path d="M3.9,0.6 C2.1,2.6 0.7,5 0.8,7.2 C1.0,10.2 3.3,12.0 6.0,11.9 C9.2,11.8 13.2,11.0 15.5,8.3 C17.2,6.3 17.4,3.0 15.9,1.6 C14.6,0.4 12.3,0.6 10.6,1.7 C8.4,3.2 7.4,7.0 6.9,11.0" stroke-width="1.25"/><path d="M6.9,11.0 L5.0,18.6" stroke-width="1.70"/></g>
<text transform="translate(772.11,45.31) scale(1.0867,0.9703)" style="font-family:&quot;Liberation Serif&quot;,serif;font-style:italic;font-size:21.0px">s</text>
<text class="e" transform="translate(789.30,47.17) scale(1.4000,1.3885)" style="font-family:&quot;Liberation Serif&quot;,serif;font-size:30.0px">+</text>
<g transform="translate(820.40,27.50) scale(1.0000,1.0000)" fill="none" stroke="#000" stroke-linecap="round"><path d="M3.9,0.6 C2.1,2.6 0.7,5 0.8,7.2 C1.0,10.2 3.3,12.0 6.0,11.9 C9.2,11.8 13.2,11.0 15.5,8.3 C17.2,6.3 17.4,3.0 15.9,1.6 C14.6,0.4 12.3,0.6 10.6,1.7 C8.4,3.2 7.4,7.0 6.9,11.0" stroke-width="1.25"/><path d="M6.9,11.0 L5.0,18.6" stroke-width="1.70"/></g>
<text transform="translate(839.14,45.50) scale(1.1442,1.0216)" style="font-family:&quot;Liberation Serif&quot;,serif;font-style:italic;font-size:21.0px">i</text>
<text class="e" transform="translate(855.94,42.92) scale(1.4429,0.9867)" style="font-family:&quot;Liberation Serif&quot;,serif;font-size:30.0px">=</text>
<text class="e" transform="translate(887.18,41.09) scale(1.0073,1.0297)" style="font-family:&quot;Liberation Serif&quot;,serif;font-size:30.0px">195</text>
<text class="e" transform="translate(933.49,37.78) scale(0.9341,0.9341)" style="font-family:&quot;Liberation Serif&quot;,serif;font-size:30.0px">°</text>
<g transform="translate(346.90,393.30) scale(1.0000,1.0000)" fill="none" stroke="#000" stroke-linecap="round"><path d="M3.9,0.6 C2.1,2.6 0.7,5 0.8,7.2 C1.0,10.2 3.3,12.0 6.0,11.9 C9.2,11.8 13.2,11.0 15.5,8.3 C17.2,6.3 17.4,3.0 15.9,1.6 C14.6,0.4 12.3,0.6 10.6,1.7 C8.4,3.2 7.4,7.0 6.9,11.0" stroke-width="1.25"/><path d="M6.9,11.0 L5.0,18.6" stroke-width="1.70"/></g>
<text transform="translate(366.81,411.11) scale(1.0867,0.9703)" style="font-family:&quot;Liberation Serif&quot;,serif;font-style:italic;font-size:21.0px">s</text>
<text class="e" transform="translate(384.00,412.97) scale(1.4000,1.3885)" style="font-family:&quot;Liberation Serif&quot;,serif;font-size:30.0px">+</text>
<g transform="translate(415.10,393.30) scale(1.0000,1.0000)" fill="none" stroke="#000" stroke-linecap="round"><path d="M3.9,0.6 C2.1,2.6 0.7,5 0.8,7.2 C1.0,10.2 3.3,12.0 6.0,11.9 C9.2,11.8 13.2,11.0 15.5,8.3 C17.2,6.3 17.4,3.0 15.9,1.6 C14.6,0.4 12.3,0.6 10.6,1.7 C8.4,3.2 7.4,7.0 6.9,11.0" stroke-width="1.25"/><path d="M6.9,11.0 L5.0,18.6" stroke-width="1.70"/></g>
<text transform="translate(433.84,411.30) scale(1.1442,1.0216)" style="font-family:&quot;Liberation Serif&quot;,serif;font-style:italic;font-size:21.0px">i</text>
<text class="e" transform="translate(450.64,408.72) scale(1.4429,0.9867)" style="font-family:&quot;Liberation Serif&quot;,serif;font-size:30.0px">=</text>
<text class="e" transform="translate(483.23,406.89) scale(0.9742,1.0246)" style="font-family:&quot;Liberation Serif&quot;,serif;font-size:30.0px">280</text>
<text class="e" transform="translate(528.19,403.58) scale(0.9341,0.9341)" style="font-family:&quot;Liberation Serif&quot;,serif;font-size:30.0px">°</text>
<g transform="translate(751.90,394.10) scale(1.0000,1.0000)" fill="none" stroke="#000" stroke-linecap="round"><path d="M3.9,0.6 C2.1,2.6 0.7,5 0.8,7.2 C1.0,10.2 3.3,12.0 6.0,11.9 C9.2,11.8 13.2,11.0 15.5,8.3 C17.2,6.3 17.4,3.0 15.9,1.6 C14.6,0.4 12.3,0.6 10.6,1.7 C8.4,3.2 7.4,7.0 6.9,11.0" stroke-width="1.25"/><path d="M6.9,11.0 L5.0,18.6" stroke-width="1.70"/></g>
<text transform="translate(771.81,411.91) scale(1.0867,0.9703)" style="font-family:&quot;Liberation Serif&quot;,serif;font-style:italic;font-size:21.0px">s</text>
<text class="e" transform="translate(789.00,413.77) scale(1.4000,1.3885)" style="font-family:&quot;Liberation Serif&quot;,serif;font-size:30.0px">+</text>
<g transform="translate(820.10,394.10) scale(1.0000,1.0000)" fill="none" stroke="#000" stroke-linecap="round"><path d="M3.9,0.6 C2.1,2.6 0.7,5 0.8,7.2 C1.0,10.2 3.3,12.0 6.0,11.9 C9.2,11.8 13.2,11.0 15.5,8.3 C17.2,6.3 17.4,3.0 15.9,1.6 C14.6,0.4 12.3,0.6 10.6,1.7 C8.4,3.2 7.4,7.0 6.9,11.0" stroke-width="1.25"/><path d="M6.9,11.0 L5.0,18.6" stroke-width="1.70"/></g>
<text transform="translate(838.84,412.10) scale(1.1442,1.0216)" style="font-family:&quot;Liberation Serif&quot;,serif;font-style:italic;font-size:21.0px">i</text>
<text class="e" transform="translate(855.64,409.52) scale(1.4429,0.9867)" style="font-family:&quot;Liberation Serif&quot;,serif;font-size:30.0px">=</text>
<text class="e" transform="translate(888.13,407.69) scale(0.9788,1.0297)" style="font-family:&quot;Liberation Serif&quot;,serif;font-size:30.0px">365</text>
<text class="e" transform="translate(933.19,404.38) scale(0.9341,0.9341)" style="font-family:&quot;Liberation Serif&quot;,serif;font-size:30.0px">°</text>
<text class="e" transform="translate(815.70,90.90) scale(1.1714,1.0459)" style="font-family:&quot;Liberation Serif&quot;,serif;font-style:italic;font-size:30.0px">T</text>
<text transform="translate(836.37,95.79) scale(1.1835,1.0567)" style="font-family:&quot;Liberation Serif&quot;,serif;font-style:italic;font-size:21.0px">int</text>
<text class="e" transform="translate(875.86,93.28) scale(1.4286,1.0133)" style="font-family:&quot;Liberation Serif&quot;,serif;font-size:30.0px">=</text>
<text class="e" transform="translate(907.13,91.20) scale(1.0283,1.0253)" style="font-family:&quot;Liberation Serif&quot;,serif;font-size:30.0px">1</text>
<text class="e" transform="translate(923.77,91.19) scale(1.0769,1.0208)" style="font-family:&quot;Liberation Serif&quot;,serif;font-style:italic;font-size:30.0px">s</text>
<rect x="193.00" y="253.50" width="1.70" height="29.10" fill="#000"/>
<text class="e" transform="translate(199.35,275.80) scale(1.1603,1.0663)" style="font-family:&quot;Liberation Serif&quot;,serif;font-style:italic;font-size:30.0px">L</text>
<text class="e" transform="translate(218.75,275.97) scale(1.2143,1.0842)" style="font-family:&quot;Liberation Serif&quot;,serif;font-style:italic;font-size:30.0px">S</text>
<polyline points="239.55,253.50 244.65,268.05 239.55,282.60" fill="none" stroke="#000" stroke-width="1.50"/>
<rect x="434.70" y="275.60" width="1.50" height="30.30" fill="#000"/>
<text class="e" transform="translate(440.51,298.67) scale(1.2270,1.1139)" style="font-family:&quot;Liberation Serif&quot;,serif;font-style:italic;font-size:30.0px">S</text>
<text class="e" transform="translate(460.35,298.30) scale(1.1603,1.0510)" style="font-family:&quot;Liberation Serif&quot;,serif;font-style:italic;font-size:30.0px">L</text>
<polyline points="480.95,275.60 486.15,290.75 480.95,305.90" fill="none" stroke="#000" stroke-width="1.50"/>
<rect x="201.10" y="87.20" width="1.60" height="30.50" fill="#000"/>
<text class="e" transform="translate(206.77,110.37) scale(1.2253,1.0941)" style="font-family:&quot;Liberation Serif&quot;,serif;font-style:italic;font-size:30.0px">S</text>
<text class="e" transform="translate(226.52,110.37) scale(1.2253,1.0941)" style="font-family:&quot;Liberation Serif&quot;,serif;font-style:italic;font-size:30.0px">S</text>
<polyline points="247.25,87.20 252.35,102.45 247.25,117.70" fill="none" stroke="#000" stroke-width="1.50"/>
<text class="e" transform="translate(257.48,109.59) scale(1.0222,1.2857)" style="font-family:&quot;Liberation Serif&quot;,serif;font-size:30.0px">,</text>
<rect x="272.80" y="87.20" width="1.50" height="30.50" fill="#000"/>
<text class="e" transform="translate(278.86,110.00) scale(1.1859,1.0714)" style="font-family:&quot;Liberation Serif&quot;,serif;font-style:italic;font-size:30.0px">L</text>
<text class="e" transform="translate(298.75,110.00) scale(1.1795,1.0714)" style="font-family:&quot;Liberation Serif&quot;,serif;font-style:italic;font-size:30.0px">L</text>
<polyline points="319.65,87.20 325.05,102.45 319.65,117.70" fill="none" stroke="#000" stroke-width="1.50"/>
<rect x="547.90" y="880.90" width="2.10" height="31.80" fill="#000"/>
<text class="e" transform="translate(554.68,905.00) scale(1.2629,1.1276)" style="font-family:&quot;Liberation Serif&quot;,serif;font-style:italic;font-size:30.0px">L</text>
<text class="e" transform="translate(576.04,905.45) scale(1.3030,1.1634)" style="font-family:&quot;Liberation Serif&quot;,serif;font-style:italic;font-size:30.0px">S</text>
<polyline points="597.80,880.90 603.90,896.80 597.80,912.70" fill="none" stroke="#000" stroke-width="1.60"/>
<rect x="778.70" y="1015.50" width="1.70" height="31.30" fill="#000"/>
<text class="e" transform="translate(785.03,1039.65) scale(1.2919,1.1535)" style="font-family:&quot;Liberation Serif&quot;,serif;font-style:italic;font-size:30.0px">S</text>
<text class="e" transform="translate(806.27,1039.60) scale(1.2179,1.1378)" style="font-family:&quot;Liberation Serif&quot;,serif;font-style:italic;font-size:30.0px">L</text>
<polyline points="827.80,1015.50 833.50,1031.15 827.80,1046.80" fill="none" stroke="#000" stroke-width="1.60"/>
<rect x="507.90" y="1376.60" width="2.10" height="32.90" fill="#000"/>
<text class="e" transform="translate(514.46,1402.84) scale(1.3404,1.2129)" style="font-family:&quot;Liberation Serif&quot;,serif;font-style:italic;font-size:30.0px">S</text>
<text class="e" transform="translate(535.78,1402.84) scale(1.2908,1.2129)" style="font-family:&quot;Liberation Serif&quot;,serif;font-style:italic;font-size:30.0px">S</text>
<polyline points="558.40,1376.60 563.90,1393.05 558.40,1409.50" fill="none" stroke="#000" stroke-width="1.60"/>
<text class="e" transform="translate(569.15,1402.70) scale(1.0444,1.1299)" style="font-family:&quot;Liberation Serif&quot;,serif;font-size:30.0px">,</text>
<rect x="585.30" y="1376.60" width="2.10" height="32.90" fill="#000"/>
<text class="e" transform="translate(592.96,1402.40) scale(1.2914,1.1531)" style="font-family:&quot;Liberation Serif&quot;,serif;font-style:italic;font-size:30.0px">L</text>
<text class="e" transform="translate(614.06,1402.40) scale(1.2115,1.1531)" style="font-family:&quot;Liberation Serif&quot;,serif;font-style:italic;font-size:30.0px">L</text>
<polyline points="635.80,1376.60 641.30,1393.05 635.80,1409.50" fill="none" stroke="#000" stroke-width="1.60"/>
<text class="e" transform="translate(525.33,1148.10) scale(1.2506,1.1166)" style="font-family:&quot;Liberation Serif&quot;,serif;font-style:italic;font-size:34.0px">P</text>
<text transform="translate(546.22,1153.59) scale(1.1960,1.0679)" style="font-family:&quot;Liberation Serif&quot;,serif;font-size:24.0px">0</text>
<text class="e" transform="translate(571.37,1149.85) scale(1.5443,0.9647)" style="font-family:&quot;Liberation Serif&quot;,serif;font-size:34.0px">=</text>
<text class="e" transform="translate(609.52,1148.07) scale(1.0606,1.0969)" style="font-family:&quot;Liberation Serif&quot;,serif;font-size:34.0px">15</text>
<text class="e" transform="translate(647.41,1148.11) scale(1.1493,1.0262)" style="font-family:&quot;Liberation Serif&quot;,serif;font-style:italic;font-size:34.0px">μ</text>
<text class="e" transform="translate(665.24,1147.84) scale(1.2477,1.1140)" style="font-family:&quot;Liberation Serif&quot;,serif;font-style:italic;font-size:34.0px">W</text>
<text transform="translate(476.31,1704.68) scale(1.1393,1.0172)" style="font-family:&quot;Liberation Serif&quot;,serif;font-style:italic;font-weight:bold;font-size:34.0px">φ</text>
<text transform="translate(498.31,1709.29) scale(0.9759,1.0261)" style="font-family:&quot;Liberation Serif&quot;,serif;font-style:italic;font-size:24.0px">s</text>
<text transform="translate(514.58,1709.51) scale(1.3038,1.2767)" style="font-family:&quot;Liberation Serif&quot;,serif;font-size:34.0px">+</text>
<text transform="translate(545.36,1704.68) scale(1.1393,1.0172)" style="font-family:&quot;Liberation Serif&quot;,serif;font-style:italic;font-weight:bold;font-size:34.0px">φ</text>
<text transform="translate(566.37,1708.60) scale(1.0636,0.9497)" style="font-family:&quot;Liberation Serif&quot;,serif;font-style:italic;font-size:24.0px">i</text>
<text class="e" transform="translate(584.31,1706.89) scale(0.6618,0.8328)" style="font-family:&quot;Liberation Sans&quot;,sans-serif;font-size:34.0px">[</text>
<text transform="translate(595.45,1707.71) scale(0.8750,0.7053)" style="font-family:&quot;Liberation Sans&quot;,sans-serif;font-size:34.0px">°</text>
<text class="e" transform="translate(611.24,1706.89) scale(0.8806,0.8328)" style="font-family:&quot;Liberation Sans&quot;,sans-serif;font-size:34.0px">]</text></g>
</svg></body></html>
